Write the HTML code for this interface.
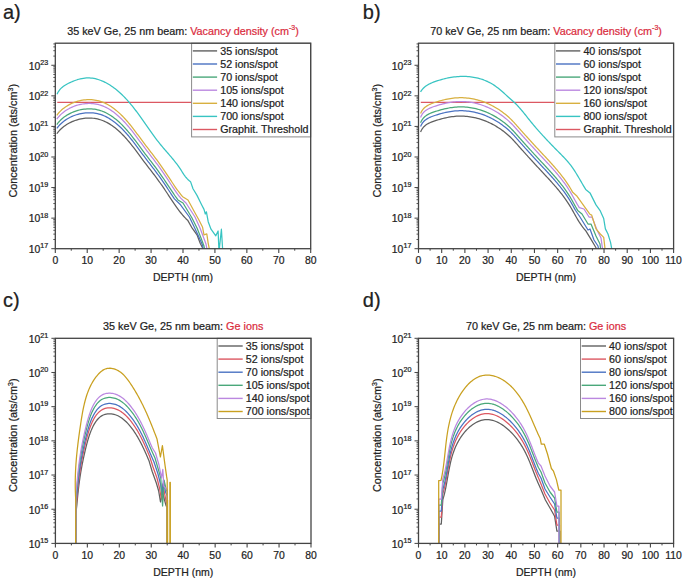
<!DOCTYPE html>
<html><head><meta charset="utf-8"><style>
html,body{margin:0;padding:0;background:#fff;}
body{width:685px;height:584px;overflow:hidden;}
svg{display:block;}
text{font-family:"Liberation Sans", sans-serif;}
</style></head><body>
<svg width="685" height="584" viewBox="0 0 685 584" font-family='"Liberation Sans", sans-serif'>
<rect width="685" height="584" fill="#fff"/>
<text x="3" y="18.6" text-anchor="start" stroke-width="0.22"><tspan font-size="20" fill="#222" stroke="#222">a)</tspan></text>
<text x="362.8" y="18.8" text-anchor="start" stroke-width="0.22"><tspan font-size="20" fill="#222" stroke="#222">b)</tspan></text>
<text x="3" y="306.5" text-anchor="start" stroke-width="0.22"><tspan font-size="20" fill="#222" stroke="#222">c)</tspan></text>
<text x="362.8" y="306.5" text-anchor="start" stroke-width="0.22"><tspan font-size="20" fill="#222" stroke="#222">d)</tspan></text>
<line x1="57.3" y1="102.4" x2="191.6" y2="102.4" stroke="#dc5862" stroke-width="1.25"/>
<polyline points="56.81,133.75 57.69,132.57 58.63,131.42 59.62,130.31 60.67,129.25 61.78,128.23 62.93,127.25 64.13,126.31 65.37,125.42 66.65,124.58 67.97,123.78 69.32,123.03 70.7,122.33 72.11,121.68 73.55,121.08 75,120.53 76.47,120.04 77.96,119.59 79.46,119.21 80.97,118.87 82.49,118.6 84.01,118.38 85.53,118.21 87.05,118.11 88.57,118.06 90.09,118.06 91.6,118.13 93.1,118.25 94.59,118.43 96.06,118.67 97.53,118.97 98.97,119.33 100.4,119.74 101.8,120.22 103.19,120.75 104.55,121.34 105.89,121.97 107.22,122.65 108.52,123.38 109.8,124.15 111.07,124.96 112.31,125.81 113.53,126.69 114.73,127.61 115.92,128.55 117.08,129.52 118.22,130.51 119.35,131.53 120.45,132.56 121.54,133.62 122.61,134.7 123.67,135.79 124.71,136.9 125.74,138.03 126.75,139.17 127.75,140.32 128.74,141.49 129.72,142.67 130.69,143.86 131.65,145.06 132.6,146.27 133.54,147.48 134.48,148.7 135.41,149.93 136.33,151.16 137.26,152.4 138.17,153.63 139.09,154.87 140,156.11 140.91,157.34 141.82,158.58 142.73,159.81 143.65,161.04 144.56,162.26 145.48,163.47 146.4,164.68 147.32,165.89 148.24,167.09 149.17,168.28 150.09,169.48 151.01,170.67 151.94,171.86 152.85,173.06 153.77,174.25 154.68,175.45 155.58,176.66 156.48,177.86 157.38,179.08 158.27,180.3 159.15,181.52 160.02,182.75 160.89,183.99 161.76,185.23 162.62,186.47 163.47,187.72 164.33,188.97 165.17,190.23 166.02,191.49 166.86,192.75 167.7,194.02 168.54,195.29 169.37,196.56 170.21,197.83 171.05,199.11 171.88,200.38 172.73,201.65 173.57,202.91 174.43,204.18 175.29,205.43 176.16,206.68 177.04,207.92 177.94,209.15 178.85,210.36 179.77,211.57 180.71,212.76 181.67,213.93 182.66,215.09 183.66,216.22 184.69,217.34 185.74,218.44 186.82,219.52 187.92,220.57 192.2,228.2 197,234.8 200.2,243.3 203,248.7 203.2,252" fill="none" stroke="#606060" stroke-width="1.25" stroke-linejoin="round" clip-path="url(#clipa)"/>
<polyline points="56.81,128.45 57.69,127.27 58.63,126.12 59.62,125.01 60.67,123.95 61.78,122.93 62.93,121.95 64.13,121.01 65.37,120.12 66.65,119.28 67.97,118.48 69.32,117.73 70.7,117.03 72.11,116.38 73.55,115.78 75,115.23 76.47,114.74 77.96,114.29 79.46,113.91 80.97,113.57 82.49,113.3 84.01,113.08 85.53,112.91 87.05,112.81 88.57,112.76 90.09,112.76 91.6,112.83 93.1,112.95 94.59,113.13 96.06,113.37 97.53,113.67 98.97,114.03 100.4,114.44 101.8,114.92 103.19,115.45 104.55,116.04 105.89,116.67 107.22,117.35 108.52,118.08 109.8,118.85 111.07,119.66 112.31,120.51 113.53,121.39 114.73,122.31 115.92,123.25 117.08,124.22 118.22,125.21 119.35,126.23 120.45,127.26 121.54,128.32 122.61,129.4 123.67,130.49 124.71,131.6 125.74,132.73 126.75,133.87 127.75,135.02 128.74,136.19 129.72,137.37 130.69,138.56 131.65,139.76 132.6,140.97 133.54,142.18 134.48,143.4 135.41,144.63 136.33,145.86 137.26,147.1 138.17,148.33 139.09,149.57 140,150.81 140.91,152.04 141.82,153.28 142.73,154.51 143.65,155.74 144.56,156.96 145.48,158.17 146.4,159.38 147.32,160.59 148.24,161.79 149.17,162.98 150.09,164.18 151.01,165.37 151.94,166.56 152.85,167.76 153.77,168.95 154.68,170.15 155.58,171.36 156.48,172.56 157.38,173.78 158.27,175 159.15,176.22 160.02,177.45 160.89,178.69 161.76,179.93 162.62,181.17 163.47,182.42 164.33,183.67 165.17,184.93 166.02,186.19 166.86,187.45 167.7,188.72 168.54,189.99 169.37,191.26 170.21,192.53 171.05,193.81 171.88,195.08 172.73,196.35 173.57,197.61 174.43,198.88 180,204.2 189.4,217 194,226.4 198.8,236.7 202.6,245.2 203.5,252" fill="none" stroke="#4a72c2" stroke-width="1.25" stroke-linejoin="round" clip-path="url(#clipa)"/>
<polyline points="56.81,124.55 57.69,123.37 58.63,122.22 59.62,121.11 60.67,120.05 61.78,119.03 62.93,118.05 64.13,117.11 65.37,116.22 66.65,115.38 67.97,114.58 69.32,113.83 70.7,113.13 72.11,112.48 73.55,111.88 75,111.33 76.47,110.84 77.96,110.39 79.46,110.01 80.97,109.67 82.49,109.4 84.01,109.18 85.53,109.01 87.05,108.91 88.57,108.86 90.09,108.86 91.6,108.93 93.1,109.05 94.59,109.23 96.06,109.47 97.53,109.77 98.97,110.13 100.4,110.54 101.8,111.02 103.19,111.55 104.55,112.14 105.89,112.77 107.22,113.45 108.52,114.18 109.8,114.95 111.07,115.76 112.31,116.61 113.53,117.49 114.73,118.41 115.92,119.35 117.08,120.32 118.22,121.31 119.35,122.33 120.45,123.36 121.54,124.42 122.61,125.5 123.67,126.59 124.71,127.7 125.74,128.83 126.75,129.97 127.75,131.12 128.74,132.29 129.72,133.47 130.69,134.66 131.65,135.86 132.6,137.07 133.54,138.28 134.48,139.5 135.41,140.73 136.33,141.96 137.26,143.2 138.17,144.43 139.09,145.67 140,146.91 140.91,148.14 141.82,149.38 142.73,150.61 143.65,151.84 144.56,153.06 145.48,154.27 146.4,155.48 147.32,156.69 148.24,157.89 149.17,159.08 150.09,160.28 151.01,161.47 151.94,162.66 152.85,163.86 153.77,165.05 154.68,166.25 155.58,167.46 156.48,168.66 157.38,169.88 158.27,171.1 159.15,172.32 160.02,173.55 160.89,174.79 161.76,176.03 162.62,177.27 163.47,178.52 164.33,179.77 165.17,181.03 166.02,182.29 166.86,183.55 167.7,184.82 168.54,186.09 169.37,187.36 170.21,188.63 171.05,189.91 171.88,191.18 172.73,192.45 173.57,193.71 174.43,194.98 175.29,196.23 176.16,197.48 177.04,198.72 177.94,199.95 183,203 192,218 197,228 201,238 204,246 205,252" fill="none" stroke="#4aa87a" stroke-width="1.25" stroke-linejoin="round" clip-path="url(#clipa)"/>
<polyline points="56.81,119.15 57.69,117.97 58.63,116.82 59.62,115.71 60.67,114.65 61.78,113.63 62.93,112.65 64.13,111.71 65.37,110.82 66.65,109.98 67.97,109.18 69.32,108.43 70.7,107.73 72.11,107.08 73.55,106.48 75,105.93 76.47,105.44 77.96,104.99 79.46,104.61 80.97,104.27 82.49,104 84.01,103.78 85.53,103.61 87.05,103.51 88.57,103.46 90.09,103.46 91.6,103.53 93.1,103.65 94.59,103.83 96.06,104.07 97.53,104.37 98.97,104.73 100.4,105.14 101.8,105.62 103.19,106.15 104.55,106.74 105.89,107.37 107.22,108.05 108.52,108.78 109.8,109.55 111.07,110.36 112.31,111.21 113.53,112.09 114.73,113.01 115.92,113.95 117.08,114.92 118.22,115.91 119.35,116.93 120.45,117.96 121.54,119.02 122.61,120.1 123.67,121.19 124.71,122.3 125.74,123.43 126.75,124.57 127.75,125.72 128.74,126.89 129.72,128.07 130.69,129.26 131.65,130.46 132.6,131.67 133.54,132.88 134.48,134.1 135.41,135.33 136.33,136.56 137.26,137.8 138.17,139.03 139.09,140.27 140,141.51 140.91,142.74 141.82,143.98 142.73,145.21 143.65,146.44 144.56,147.66 145.48,148.87 146.4,150.08 147.32,151.29 148.24,152.49 149.17,153.68 150.09,154.88 151.01,156.07 151.94,157.26 152.85,158.46 153.77,159.65 154.68,160.85 155.58,162.06 156.48,163.26 157.38,164.48 158.27,165.7 159.15,166.92 160.02,168.15 160.89,169.39 161.76,170.63 162.62,171.87 163.47,173.12 164.33,174.37 165.17,175.63 166.02,176.89 166.86,178.15 167.7,179.42 168.54,180.69 169.37,181.96 170.21,183.23 171.05,184.51 171.88,185.78 172.73,187.05 173.57,188.31 174.43,189.58 175.29,190.83 176.16,192.08 177.04,193.32 177.94,194.55 178.85,195.76 179.77,196.97 180.71,198.16 186,203 195,217 200,228 203,236 206,244 207.5,252" fill="none" stroke="#bb88e0" stroke-width="1.25" stroke-linejoin="round" clip-path="url(#clipa)"/>
<polyline points="56.81,115.35 57.69,114.17 58.63,113.02 59.62,111.91 60.67,110.85 61.78,109.83 62.93,108.85 64.13,107.91 65.37,107.02 66.65,106.18 67.97,105.38 69.32,104.63 70.7,103.93 72.11,103.28 73.55,102.68 75,102.13 76.47,101.64 77.96,101.19 79.46,100.81 80.97,100.47 82.49,100.2 84.01,99.98 85.53,99.81 87.05,99.71 88.57,99.66 90.09,99.66 91.6,99.73 93.1,99.85 94.59,100.03 96.06,100.27 97.53,100.57 98.97,100.93 100.4,101.34 101.8,101.82 103.19,102.35 104.55,102.94 105.89,103.57 107.22,104.25 108.52,104.98 109.8,105.75 111.07,106.56 112.31,107.41 113.53,108.29 114.73,109.21 115.92,110.15 117.08,111.12 118.22,112.11 119.35,113.13 120.45,114.16 121.54,115.22 122.61,116.3 123.67,117.39 124.71,118.5 125.74,119.63 126.75,120.77 127.75,121.92 128.74,123.09 129.72,124.27 130.69,125.46 131.65,126.66 132.6,127.87 133.54,129.08 134.48,130.3 135.41,131.53 136.33,132.76 137.26,134 138.17,135.23 139.09,136.47 140,137.71 140.91,138.94 141.82,140.18 142.73,141.41 143.65,142.64 144.56,143.86 145.48,145.07 146.4,146.28 147.32,147.49 148.24,148.69 149.17,149.88 150.09,151.08 151.01,152.27 151.94,153.46 152.85,154.66 153.77,155.85 154.68,157.05 155.58,158.26 156.48,159.46 157.38,160.68 158.27,161.9 159.15,163.12 160.02,164.35 160.89,165.59 161.76,166.83 162.62,168.07 163.47,169.32 164.33,170.57 165.17,171.83 166.02,173.09 166.86,174.35 167.7,175.62 168.54,176.89 169.37,178.16 170.21,179.43 171.05,180.71 171.88,181.98 172.73,183.25 173.57,184.51 174.43,185.78 175.29,187.03 176.16,188.28 177.04,189.52 177.94,190.75 178.85,191.96 179.77,193.17 180.71,194.36 181.67,195.53 182.66,196.69 188,200 194.1,211.3 198.8,219.8 202.6,227.3 204,234.8 206.8,233.9 208.2,243.3 210,252" fill="none" stroke="#d8b040" stroke-width="1.25" stroke-linejoin="round" clip-path="url(#clipa)"/>
<polyline points="56.99,94.35 57.67,92.89 58.44,91.55 59.3,90.32 60.23,89.18 61.23,88.14 62.31,87.18 63.45,86.3 64.65,85.47 65.9,84.71 67.2,83.98 68.55,83.29 69.93,82.63 71.35,81.99 72.8,81.37 74.28,80.78 75.77,80.23 77.28,79.72 78.81,79.27 80.34,78.87 81.87,78.53 83.4,78.26 84.93,78.06 86.44,77.95 87.95,77.9 89.45,77.94 90.93,78.04 92.41,78.2 93.87,78.44 95.32,78.73 96.76,79.09 98.18,79.5 99.59,79.97 100.99,80.48 102.37,81.05 103.74,81.67 105.09,82.32 106.42,83.02 107.74,83.76 109.04,84.54 110.32,85.34 111.58,86.18 112.82,87.05 114.05,87.94 115.25,88.86 116.44,89.8 117.6,90.76 118.74,91.74 119.87,92.73 120.98,93.75 122.07,94.79 123.15,95.84 124.21,96.9 125.25,97.99 126.28,99.09 127.3,100.2 128.3,101.33 129.3,102.47 130.27,103.62 131.24,104.78 132.2,105.96 133.15,107.14 134.08,108.34 135.01,109.54 135.93,110.75 136.85,111.97 137.76,113.2 138.66,114.43 139.55,115.67 140.44,116.91 141.33,118.16 142.21,119.41 143.09,120.66 143.97,121.92 144.85,123.18 145.72,124.43 146.6,125.69 147.48,126.95 148.35,128.2 149.23,129.46 150.11,130.71 151,131.96 151.88,133.2 152.78,134.44 153.67,135.67 154.58,136.9 155.48,138.12 156.4,139.34 157.32,140.54 158.25,141.74 159.19,142.93 160.14,144.1 161.1,145.27 162.07,146.43 163.04,147.58 164.02,148.72 165,149.86 165.99,151 166.97,152.14 167.96,153.27 168.94,154.41 169.92,155.55 170.9,156.69 171.87,157.84 172.83,159 173.79,160.17 174.73,161.34 175.66,162.53 176.58,163.73 177.48,164.94 178.37,166.17 179.24,167.41 180.1,168.68 180.93,169.96 181.76,171.26 182.58,172.55 183.42,173.83 184.28,175.1 185.17,176.33 186.11,177.52 187.11,178.66 188.17,179.73 189.31,180.74 190.54,181.65 193,188.8 197,195.4 201.6,204.7 204,209.4 205.3,214 206.4,211.8 208.2,221.7 211,229.2 215.8,235.8 218.1,231 219,252 221.4,229.2 222.8,252" fill="none" stroke="#38c4c2" stroke-width="1.25" stroke-linejoin="round" clip-path="url(#clipa)"/>
<line x1="420.8" y1="102.4" x2="554.8" y2="102.4" stroke="#dc5862" stroke-width="1.25"/>
<polyline points="420.58,132.01 421.27,130.44 422.06,129.04 422.95,127.8 423.93,126.68 425,125.7 426.14,124.82 427.34,124.04 428.6,123.34 429.91,122.71 431.26,122.14 432.65,121.62 434.06,121.13 435.49,120.65 436.94,120.19 438.4,119.74 439.87,119.31 441.35,118.9 442.84,118.51 444.34,118.15 445.84,117.81 447.35,117.49 448.87,117.2 450.39,116.94 451.91,116.72 453.43,116.52 454.95,116.37 456.48,116.24 457.99,116.16 459.51,116.11 461.02,116.1 462.53,116.12 464.03,116.19 465.54,116.28 467.03,116.42 468.52,116.58 470.01,116.78 471.48,117.02 472.96,117.29 474.42,117.59 475.88,117.93 477.33,118.29 478.77,118.69 480.21,119.12 481.63,119.58 483.05,120.08 484.46,120.6 485.85,121.15 487.24,121.73 488.62,122.35 489.98,122.99 491.34,123.65 492.68,124.35 494.01,125.07 495.32,125.82 496.63,126.6 497.92,127.41 499.19,128.24 500.46,129.09 501.7,129.97 502.94,130.87 504.15,131.8 505.35,132.75 506.53,133.73 507.69,134.72 508.83,135.73 509.95,136.77 511.05,137.82 512.12,138.89 513.17,139.98 514.2,141.09 515.21,142.21 516.21,143.33 517.2,144.46 518.2,145.59 519.2,146.71 520.2,147.84 521.2,148.96 522.2,150.08 523.2,151.21 524.21,152.33 525.22,153.45 526.23,154.57 527.24,155.69 528.25,156.81 529.26,157.92 530.28,159.04 531.3,160.15 532.32,161.27 533.34,162.38 534.36,163.5 535.38,164.61 536.41,165.72 537.44,166.83 538.47,167.94 539.5,169.05 540.53,170.16 541.57,171.26 542.6,172.37 543.64,173.48 544.67,174.59 545.71,175.7 546.74,176.81 547.77,177.92 548.8,179.04 549.82,180.16 550.84,181.28 551.86,182.41 552.86,183.54 553.87,184.67 554.87,185.81 555.86,186.96 556.84,188.11 557.81,189.27 558.77,190.43 559.73,191.61 560.67,192.79 561.61,193.97 562.53,195.17 563.44,196.38 564.33,197.59 565.22,198.81 566.08,200.05 566.94,201.29 567.78,202.55 568.6,203.82 569.41,205.1 570.19,206.39 570.97,207.7 571.73,209.01 572.47,210.33 573.22,211.66 573.95,212.99 574.69,214.32 575.43,215.65 576.18,216.97 576.93,218.29 577.7,219.6 578.48,220.89 579.28,222.18 580.11,223.45 580.96,224.7 581.83,225.93 582.74,227.14 583.69,228.32 584.67,229.48 585.69,230.6 590.9,239.1 596,247.7 596.5,252" fill="none" stroke="#606060" stroke-width="1.25" stroke-linejoin="round" clip-path="url(#clipb)"/>
<polyline points="420.58,126.61 421.27,125.04 422.06,123.64 422.95,122.4 423.93,121.28 425,120.3 426.14,119.42 427.34,118.64 428.6,117.94 429.91,117.31 431.26,116.74 432.65,116.22 434.06,115.73 435.49,115.25 436.94,114.79 438.4,114.34 439.87,113.91 441.35,113.5 442.84,113.11 444.34,112.75 445.84,112.41 447.35,112.09 448.87,111.8 450.39,111.54 451.91,111.32 453.43,111.12 454.95,110.97 456.48,110.84 457.99,110.76 459.51,110.71 461.02,110.7 462.53,110.72 464.03,110.79 465.54,110.88 467.03,111.02 468.52,111.18 470.01,111.38 471.48,111.62 472.96,111.89 474.42,112.19 475.88,112.53 477.33,112.89 478.77,113.29 480.21,113.72 481.63,114.18 483.05,114.68 484.46,115.2 485.85,115.75 487.24,116.33 488.62,116.95 489.98,117.59 491.34,118.25 492.68,118.95 494.01,119.67 495.32,120.42 496.63,121.2 497.92,122.01 499.19,122.84 500.46,123.69 501.7,124.57 502.94,125.47 504.15,126.4 505.35,127.35 506.53,128.33 507.69,129.32 508.83,130.33 509.95,131.37 511.05,132.42 512.12,133.49 513.17,134.58 514.2,135.69 515.21,136.81 516.21,137.93 517.2,139.06 518.2,140.19 519.2,141.31 520.2,142.44 521.2,143.56 522.2,144.68 523.2,145.81 524.21,146.93 525.22,148.05 526.23,149.17 527.24,150.29 528.25,151.41 529.26,152.52 530.28,153.64 531.3,154.75 532.32,155.87 533.34,156.98 534.36,158.1 535.38,159.21 536.41,160.32 537.44,161.43 538.47,162.54 539.5,163.65 540.53,164.76 541.57,165.86 542.6,166.97 543.64,168.08 544.67,169.19 545.71,170.3 546.74,171.41 547.77,172.52 548.8,173.64 549.82,174.76 550.84,175.88 551.86,177.01 552.86,178.14 553.87,179.27 554.87,180.41 555.86,181.56 556.84,182.71 557.81,183.87 558.77,185.03 559.73,186.21 560.67,187.39 561.61,188.57 562.53,189.77 563.44,190.98 564.33,192.19 565.22,193.41 566.08,194.65 566.94,195.89 567.78,197.15 568.6,198.42 569.41,199.7 570.19,200.99 570.97,202.3 571.73,203.61 572.47,204.93 573.22,206.26 573.95,207.59 574.69,208.92 575.43,210.25 580,217 588,230 590,229 594,240 598,246 599,252" fill="none" stroke="#4a72c2" stroke-width="1.25" stroke-linejoin="round" clip-path="url(#clipb)"/>
<polyline points="420.58,122.81 421.27,121.24 422.06,119.84 422.95,118.6 423.93,117.48 425,116.5 426.14,115.62 427.34,114.84 428.6,114.14 429.91,113.51 431.26,112.94 432.65,112.42 434.06,111.93 435.49,111.45 436.94,110.99 438.4,110.54 439.87,110.11 441.35,109.7 442.84,109.31 444.34,108.95 445.84,108.61 447.35,108.29 448.87,108 450.39,107.74 451.91,107.52 453.43,107.32 454.95,107.17 456.48,107.04 457.99,106.96 459.51,106.91 461.02,106.9 462.53,106.92 464.03,106.99 465.54,107.08 467.03,107.22 468.52,107.38 470.01,107.58 471.48,107.82 472.96,108.09 474.42,108.39 475.88,108.73 477.33,109.09 478.77,109.49 480.21,109.92 481.63,110.38 483.05,110.88 484.46,111.4 485.85,111.95 487.24,112.53 488.62,113.15 489.98,113.79 491.34,114.45 492.68,115.15 494.01,115.87 495.32,116.62 496.63,117.4 497.92,118.21 499.19,119.04 500.46,119.89 501.7,120.77 502.94,121.67 504.15,122.6 505.35,123.55 506.53,124.53 507.69,125.52 508.83,126.53 509.95,127.57 511.05,128.62 512.12,129.69 513.17,130.78 514.2,131.89 515.21,133.01 516.21,134.13 517.2,135.26 518.2,136.39 519.2,137.51 520.2,138.64 521.2,139.76 522.2,140.88 523.2,142.01 524.21,143.13 525.22,144.25 526.23,145.37 527.24,146.49 528.25,147.61 529.26,148.72 530.28,149.84 531.3,150.95 532.32,152.07 533.34,153.18 534.36,154.3 535.38,155.41 536.41,156.52 537.44,157.63 538.47,158.74 539.5,159.85 540.53,160.96 541.57,162.06 542.6,163.17 543.64,164.28 544.67,165.39 545.71,166.5 546.74,167.61 547.77,168.72 548.8,169.84 549.82,170.96 550.84,172.08 551.86,173.21 552.86,174.34 553.87,175.47 554.87,176.61 555.86,177.76 556.84,178.91 557.81,180.07 558.77,181.23 559.73,182.41 560.67,183.59 561.61,184.77 562.53,185.97 563.44,187.18 564.33,188.39 565.22,189.61 566.08,190.85 566.94,192.09 567.78,193.35 568.6,194.62 569.41,195.9 570.19,197.19 570.97,198.5 571.73,199.81 572.47,201.13 573.22,202.46 573.95,203.79 574.69,205.12 575.43,206.45 576.18,207.77 576.93,209.09 577.7,210.4 582,214 588,224 591,224 596,236 600,244 601,252" fill="none" stroke="#4aa87a" stroke-width="1.25" stroke-linejoin="round" clip-path="url(#clipb)"/>
<polyline points="420.58,117.41 421.27,115.84 422.06,114.44 422.95,113.2 423.93,112.08 425,111.1 426.14,110.22 427.34,109.44 428.6,108.74 429.91,108.11 431.26,107.54 432.65,107.02 434.06,106.53 435.49,106.05 436.94,105.59 438.4,105.14 439.87,104.71 441.35,104.3 442.84,103.91 444.34,103.55 445.84,103.21 447.35,102.89 448.87,102.6 450.39,102.34 451.91,102.12 453.43,101.92 454.95,101.77 456.48,101.64 457.99,101.56 459.51,101.51 461.02,101.5 462.53,101.52 464.03,101.59 465.54,101.68 467.03,101.82 468.52,101.98 470.01,102.18 471.48,102.42 472.96,102.69 474.42,102.99 475.88,103.33 477.33,103.69 478.77,104.09 480.21,104.52 481.63,104.98 483.05,105.48 484.46,106 485.85,106.55 487.24,107.13 488.62,107.75 489.98,108.39 491.34,109.05 492.68,109.75 494.01,110.47 495.32,111.22 496.63,112 497.92,112.81 499.19,113.64 500.46,114.49 501.7,115.37 502.94,116.27 504.15,117.2 505.35,118.15 506.53,119.13 507.69,120.12 508.83,121.13 509.95,122.17 511.05,123.22 512.12,124.29 513.17,125.38 514.2,126.49 515.21,127.61 516.21,128.73 517.2,129.86 518.2,130.99 519.2,132.11 520.2,133.24 521.2,134.36 522.2,135.48 523.2,136.61 524.21,137.73 525.22,138.85 526.23,139.97 527.24,141.09 528.25,142.21 529.26,143.32 530.28,144.44 531.3,145.55 532.32,146.67 533.34,147.78 534.36,148.9 535.38,150.01 536.41,151.12 537.44,152.23 538.47,153.34 539.5,154.45 540.53,155.56 541.57,156.66 542.6,157.77 543.64,158.88 544.67,159.99 545.71,161.1 546.74,162.21 547.77,163.32 548.8,164.44 549.82,165.56 550.84,166.68 551.86,167.81 552.86,168.94 553.87,170.07 554.87,171.21 555.86,172.36 556.84,173.51 557.81,174.67 558.77,175.83 559.73,177.01 560.67,178.19 561.61,179.37 562.53,180.57 563.44,181.78 564.33,182.99 565.22,184.21 566.08,185.45 566.94,186.69 567.78,187.95 568.6,189.22 569.41,190.5 570.19,191.79 570.97,193.1 571.73,194.41 572.47,195.73 573.22,197.06 573.95,198.39 574.69,199.72 575.43,201.05 576.18,202.37 576.93,203.69 577.7,205 578.48,206.29 579.28,207.58 584,209 589,217 592,217 597,230 601,238 603,252" fill="none" stroke="#bb88e0" stroke-width="1.25" stroke-linejoin="round" clip-path="url(#clipb)"/>
<polyline points="420.58,113.61 421.27,112.04 422.06,110.64 422.95,109.4 423.93,108.28 425,107.3 426.14,106.42 427.34,105.64 428.6,104.94 429.91,104.31 431.26,103.74 432.65,103.22 434.06,102.73 435.49,102.25 436.94,101.79 438.4,101.34 439.87,100.91 441.35,100.5 442.84,100.11 444.34,99.75 445.84,99.41 447.35,99.09 448.87,98.8 450.39,98.54 451.91,98.32 453.43,98.12 454.95,97.97 456.48,97.84 457.99,97.76 459.51,97.71 461.02,97.7 462.53,97.72 464.03,97.79 465.54,97.88 467.03,98.02 468.52,98.18 470.01,98.38 471.48,98.62 472.96,98.89 474.42,99.19 475.88,99.53 477.33,99.89 478.77,100.29 480.21,100.72 481.63,101.18 483.05,101.68 484.46,102.2 485.85,102.75 487.24,103.33 488.62,103.95 489.98,104.59 491.34,105.25 492.68,105.95 494.01,106.67 495.32,107.42 496.63,108.2 497.92,109.01 499.19,109.84 500.46,110.69 501.7,111.57 502.94,112.47 504.15,113.4 505.35,114.35 506.53,115.33 507.69,116.32 508.83,117.33 509.95,118.37 511.05,119.42 512.12,120.49 513.17,121.58 514.2,122.69 515.21,123.81 516.21,124.93 517.2,126.06 518.2,127.19 519.2,128.31 520.2,129.44 521.2,130.56 522.2,131.68 523.2,132.81 524.21,133.93 525.22,135.05 526.23,136.17 527.24,137.29 528.25,138.41 529.26,139.52 530.28,140.64 531.3,141.75 532.32,142.87 533.34,143.98 534.36,145.1 535.38,146.21 536.41,147.32 537.44,148.43 538.47,149.54 539.5,150.65 540.53,151.76 541.57,152.86 542.6,153.97 543.64,155.08 544.67,156.19 545.71,157.3 546.74,158.41 547.77,159.52 548.8,160.64 549.82,161.76 550.84,162.88 551.86,164.01 552.86,165.14 553.87,166.27 554.87,167.41 555.86,168.56 556.84,169.71 557.81,170.87 558.77,172.03 559.73,173.21 560.67,174.39 561.61,175.57 562.53,176.77 563.44,177.98 564.33,179.19 565.22,180.41 566.08,181.65 566.94,182.89 567.78,184.15 568.6,185.42 569.41,186.7 570.19,187.99 570.97,189.3 571.73,190.61 572.47,191.93 577.1,196.3 590,214.3 591.7,215.1 596,228.9 600.3,234 603.7,237.4 605.4,252" fill="none" stroke="#d8b040" stroke-width="1.25" stroke-linejoin="round" clip-path="url(#clipb)"/>
<polyline points="420.53,91.94 421.38,90.58 422.31,89.33 423.32,88.21 424.4,87.19 425.54,86.27 426.74,85.43 427.99,84.67 429.29,83.98 430.63,83.34 432,82.75 433.39,82.2 434.81,81.68 436.24,81.18 437.68,80.7 439.14,80.24 440.6,79.8 442.07,79.38 443.56,78.98 445.05,78.61 446.54,78.26 448.05,77.94 449.55,77.65 451.06,77.38 452.58,77.15 454.1,76.94 455.62,76.77 457.14,76.62 458.66,76.51 460.17,76.44 461.69,76.39 463.21,76.38 464.72,76.4 466.22,76.46 467.73,76.55 469.22,76.68 470.71,76.84 472.2,77.04 473.67,77.28 475.14,77.55 476.6,77.85 478.05,78.2 479.48,78.58 480.91,79 482.32,79.46 483.72,79.96 485.11,80.5 486.48,81.07 487.83,81.69 489.17,82.35 490.49,83.04 491.8,83.78 493.08,84.56 494.35,85.38 495.6,86.24 496.83,87.14 498.04,88.07 499.24,89.03 500.42,90.02 501.59,91.02 502.75,92.04 503.91,93.06 505.06,94.1 506.2,95.13 507.34,96.17 508.48,97.19 509.61,98.2 510.75,99.2 511.88,100.2 513,101.2 514.1,102.22 515.18,103.25 516.24,104.31 517.28,105.38 518.3,106.48 519.3,107.59 520.29,108.72 521.27,109.86 522.23,111.01 523.19,112.17 524.14,113.34 525.08,114.51 526.02,115.69 526.96,116.87 527.89,118.06 528.83,119.24 529.78,120.42 530.72,121.6 531.68,122.77 532.64,123.93 533.61,125.09 534.59,126.24 535.57,127.39 536.55,128.54 537.55,129.68 538.55,130.81 539.55,131.94 540.56,133.07 541.58,134.19 542.59,135.3 543.62,136.42 544.65,137.53 545.68,138.63 546.71,139.73 547.75,140.83 548.79,141.93 549.84,143.02 550.89,144.11 551.94,145.2 552.99,146.28 554.05,147.36 555.1,148.44 556.16,149.52 557.22,150.59 558.28,151.67 559.34,152.74 560.41,153.81 561.47,154.88 562.52,155.95 563.57,157.03 564.61,158.12 565.64,159.22 566.65,160.34 567.64,161.47 568.62,162.62 569.56,163.79 570.49,164.98 571.39,166.19 572.27,167.42 573.14,168.67 573.99,169.93 574.82,171.2 575.64,172.49 576.44,173.78 577.24,175.08 578.02,176.39 578.8,177.7 579.57,179.01 580.34,180.32 581.1,181.64 581.86,182.95 582.62,184.26 583.38,185.56 584.15,186.85 584.92,188.13 585.69,189.41 590,192.9 596,204.9 600.3,210.9 603.7,218.6 605.4,228.9 608,234 610.6,242.6 612.3,252" fill="none" stroke="#38c4c2" stroke-width="1.25" stroke-linejoin="round" clip-path="url(#clipb)"/>
<polyline points="75.8,555 75.9,513.12 76.84,505.12 76.99,503.45 77.14,501.81 77.29,500.19 77.44,498.59 77.6,497.02 77.75,495.46 77.91,493.93 78.07,492.41 78.24,490.91 78.4,489.42 78.57,487.95 78.75,486.49 78.93,485.04 79.11,483.6 79.3,482.16 79.49,480.74 79.69,479.32 79.9,477.91 80.11,476.5 80.32,475.09 80.55,473.68 80.78,472.27 81.01,470.86 81.26,469.45 81.51,468.03 81.77,466.6 82.04,465.17 82.32,463.73 82.61,462.28 82.91,460.82 83.21,459.35 83.53,457.86 83.86,456.36 84.19,454.84 84.54,453.31 84.9,451.76 85.27,450.18 85.66,448.59 86.05,446.97 86.46,445.34 86.89,443.71 87.33,442.07 87.79,440.43 88.27,438.79 88.77,437.17 89.29,435.56 89.83,433.97 90.4,432.41 91,430.88 91.62,429.38 92.27,427.92 92.95,426.51 93.66,425.14 94.4,423.83 95.18,422.58 95.99,421.39 96.84,420.27 97.72,419.23 98.65,418.26 99.61,417.37 100.61,416.58 101.66,415.87 102.75,415.27 103.89,414.77 105.07,414.36 106.28,414.07 107.53,413.87 108.8,413.77 110.09,413.77 111.39,413.87 112.71,414.07 114.03,414.36 115.35,414.74 116.66,415.22 117.95,415.79 119.23,416.45 120.49,417.2 121.73,418.03 122.94,418.94 124.12,419.91 125.28,420.95 126.42,422.04 127.52,423.19 128.6,424.37 129.66,425.6 130.68,426.85 131.67,428.12 132.64,429.41 133.58,430.72 134.49,432.04 135.37,433.38 136.23,434.72 137.06,436.08 137.87,437.44 138.65,438.82 139.42,440.2 140.16,441.58 140.89,442.97 141.6,444.36 142.29,445.76 142.96,447.15 143.62,448.55 144.26,449.94 144.89,451.33 145.51,452.72 146.12,454.1 146.72,455.47 147.31,456.84 147.89,458.19 148.46,459.54 149.03,460.87 152.1,471.3 156.4,483.2 158.6,490.7 160.5,502 162.5,492 164.5,500 166.2,506 167.3,506 167.3,555" fill="none" stroke="#606060" stroke-width="1.25" stroke-linejoin="round" clip-path="url(#clipc)"/>
<polyline points="75.8,555 75.9,507.22 76.84,499.22 76.99,497.55 77.14,495.91 77.29,494.29 77.44,492.69 77.6,491.12 77.75,489.56 77.91,488.03 78.07,486.51 78.24,485.01 78.4,483.52 78.57,482.05 78.75,480.59 78.93,479.14 79.11,477.7 79.3,476.26 79.49,474.84 79.69,473.42 79.9,472.01 80.11,470.6 80.32,469.19 80.55,467.78 80.78,466.37 81.01,464.96 81.26,463.55 81.51,462.13 81.77,460.7 82.04,459.27 82.32,457.83 82.61,456.38 82.91,454.92 83.21,453.45 83.53,451.96 83.86,450.46 84.19,448.94 84.54,447.41 84.9,445.86 85.27,444.28 85.66,442.69 86.05,441.07 86.46,439.44 86.89,437.81 87.33,436.17 87.79,434.53 88.27,432.89 88.77,431.27 89.29,429.66 89.83,428.07 90.4,426.51 91,424.98 91.62,423.48 92.27,422.02 92.95,420.61 93.66,419.24 94.4,417.93 95.18,416.68 95.99,415.49 96.84,414.37 97.72,413.33 98.65,412.36 99.61,411.47 100.61,410.68 101.66,409.97 102.75,409.37 103.89,408.87 105.07,408.46 106.28,408.17 107.53,407.97 108.8,407.87 110.09,407.87 111.39,407.97 112.71,408.17 114.03,408.46 115.35,408.84 116.66,409.32 117.95,409.89 119.23,410.55 120.49,411.3 121.73,412.13 122.94,413.04 124.12,414.01 125.28,415.05 126.42,416.14 127.52,417.29 128.6,418.47 129.66,419.7 130.68,420.95 131.67,422.22 132.64,423.51 133.58,424.82 134.49,426.14 135.37,427.48 136.23,428.82 137.06,430.18 137.87,431.54 138.65,432.92 139.42,434.3 140.16,435.68 140.89,437.07 141.6,438.46 142.29,439.86 142.96,441.25 143.62,442.65 144.26,444.04 144.89,445.43 145.51,446.82 146.12,448.2 146.72,449.57 147.31,450.94 147.89,452.29 148.46,453.64 149.03,454.97 149.59,456.29 153,467 157,478 159.5,488 161.3,499 163,484 165,496 166.5,503 167.3,503 167.3,555" fill="none" stroke="#dc5862" stroke-width="1.25" stroke-linejoin="round" clip-path="url(#clipc)"/>
<polyline points="75.8,555 75.9,502.82 76.84,494.82 76.99,493.15 77.14,491.51 77.29,489.89 77.44,488.29 77.6,486.72 77.75,485.16 77.91,483.63 78.07,482.11 78.24,480.61 78.4,479.12 78.57,477.65 78.75,476.19 78.93,474.74 79.11,473.3 79.3,471.86 79.49,470.44 79.69,469.02 79.9,467.61 80.11,466.2 80.32,464.79 80.55,463.38 80.78,461.97 81.01,460.56 81.26,459.15 81.51,457.73 81.77,456.3 82.04,454.87 82.32,453.43 82.61,451.98 82.91,450.52 83.21,449.05 83.53,447.56 83.86,446.06 84.19,444.54 84.54,443.01 84.9,441.46 85.27,439.88 85.66,438.29 86.05,436.67 86.46,435.04 86.89,433.41 87.33,431.77 87.79,430.13 88.27,428.49 88.77,426.87 89.29,425.26 89.83,423.67 90.4,422.11 91,420.58 91.62,419.08 92.27,417.62 92.95,416.21 93.66,414.84 94.4,413.53 95.18,412.28 95.99,411.09 96.84,409.97 97.72,408.93 98.65,407.96 99.61,407.07 100.61,406.28 101.66,405.57 102.75,404.97 103.89,404.47 105.07,404.06 106.28,403.77 107.53,403.57 108.8,403.47 110.09,403.47 111.39,403.57 112.71,403.77 114.03,404.06 115.35,404.44 116.66,404.92 117.95,405.49 119.23,406.15 120.49,406.9 121.73,407.73 122.94,408.64 124.12,409.61 125.28,410.65 126.42,411.74 127.52,412.89 128.6,414.07 129.66,415.3 130.68,416.55 131.67,417.82 132.64,419.11 133.58,420.42 134.49,421.74 135.37,423.08 136.23,424.42 137.06,425.78 137.87,427.14 138.65,428.52 139.42,429.9 140.16,431.28 140.89,432.67 141.6,434.06 142.29,435.46 142.96,436.85 143.62,438.25 144.26,439.64 144.89,441.03 145.51,442.42 146.12,443.8 146.72,445.17 147.31,446.54 147.89,447.89 148.46,449.24 149.03,450.57 149.59,451.89 150.15,453.2 150.71,454.49 154,462 158,474 160.5,484 162,494 163.5,480 165.5,492 167.3,496 167.3,555" fill="none" stroke="#4a72c2" stroke-width="1.25" stroke-linejoin="round" clip-path="url(#clipc)"/>
<polyline points="75.8,555 75.9,496.82 76.84,488.82 76.99,487.15 77.14,485.51 77.29,483.89 77.44,482.29 77.6,480.72 77.75,479.16 77.91,477.63 78.07,476.11 78.24,474.61 78.4,473.12 78.57,471.65 78.75,470.19 78.93,468.74 79.11,467.3 79.3,465.86 79.49,464.44 79.69,463.02 79.9,461.61 80.11,460.2 80.32,458.79 80.55,457.38 80.78,455.97 81.01,454.56 81.26,453.15 81.51,451.73 81.77,450.3 82.04,448.87 82.32,447.43 82.61,445.98 82.91,444.52 83.21,443.05 83.53,441.56 83.86,440.06 84.19,438.54 84.54,437.01 84.9,435.46 85.27,433.88 85.66,432.29 86.05,430.67 86.46,429.04 86.89,427.41 87.33,425.77 87.79,424.13 88.27,422.49 88.77,420.87 89.29,419.26 89.83,417.67 90.4,416.11 91,414.58 91.62,413.08 92.27,411.62 92.95,410.21 93.66,408.84 94.4,407.53 95.18,406.28 95.99,405.09 96.84,403.97 97.72,402.93 98.65,401.96 99.61,401.07 100.61,400.28 101.66,399.57 102.75,398.97 103.89,398.47 105.07,398.06 106.28,397.77 107.53,397.57 108.8,397.47 110.09,397.47 111.39,397.57 112.71,397.77 114.03,398.06 115.35,398.44 116.66,398.92 117.95,399.49 119.23,400.15 120.49,400.9 121.73,401.73 122.94,402.64 124.12,403.61 125.28,404.65 126.42,405.74 127.52,406.89 128.6,408.07 129.66,409.3 130.68,410.55 131.67,411.82 132.64,413.11 133.58,414.42 134.49,415.74 135.37,417.08 136.23,418.42 137.06,419.78 137.87,421.14 138.65,422.52 139.42,423.9 140.16,425.28 140.89,426.67 141.6,428.06 142.29,429.46 142.96,430.85 143.62,432.25 144.26,433.64 144.89,435.03 145.51,436.42 146.12,437.8 146.72,439.17 147.31,440.54 147.89,441.89 148.46,443.24 149.03,444.57 149.59,445.89 150.15,447.2 150.71,448.49 151.26,449.76 151.81,451.02 155,458 158.5,470 160.8,478 161.5,492 162.6,506 164,480 166,489 167.3,492 167.3,555" fill="none" stroke="#4aa87a" stroke-width="1.25" stroke-linejoin="round" clip-path="url(#clipc)"/>
<polyline points="75.8,555 75.9,492.52 76.84,484.52 76.99,482.85 77.14,481.21 77.29,479.59 77.44,477.99 77.6,476.42 77.75,474.86 77.91,473.33 78.07,471.81 78.24,470.31 78.4,468.82 78.57,467.35 78.75,465.89 78.93,464.44 79.11,463 79.3,461.56 79.49,460.14 79.69,458.72 79.9,457.31 80.11,455.9 80.32,454.49 80.55,453.08 80.78,451.67 81.01,450.26 81.26,448.85 81.51,447.43 81.77,446 82.04,444.57 82.32,443.13 82.61,441.68 82.91,440.22 83.21,438.75 83.53,437.26 83.86,435.76 84.19,434.24 84.54,432.71 84.9,431.16 85.27,429.58 85.66,427.99 86.05,426.37 86.46,424.74 86.89,423.11 87.33,421.47 87.79,419.83 88.27,418.19 88.77,416.57 89.29,414.96 89.83,413.37 90.4,411.81 91,410.28 91.62,408.78 92.27,407.32 92.95,405.91 93.66,404.54 94.4,403.23 95.18,401.98 95.99,400.79 96.84,399.67 97.72,398.63 98.65,397.66 99.61,396.77 100.61,395.98 101.66,395.27 102.75,394.67 103.89,394.17 105.07,393.76 106.28,393.47 107.53,393.27 108.8,393.17 110.09,393.17 111.39,393.27 112.71,393.47 114.03,393.76 115.35,394.14 116.66,394.62 117.95,395.19 119.23,395.85 120.49,396.6 121.73,397.43 122.94,398.34 124.12,399.31 125.28,400.35 126.42,401.44 127.52,402.59 128.6,403.77 129.66,405 130.68,406.25 131.67,407.52 132.64,408.81 133.58,410.12 134.49,411.44 135.37,412.78 136.23,414.12 137.06,415.48 137.87,416.84 138.65,418.22 139.42,419.6 140.16,420.98 140.89,422.37 141.6,423.76 142.29,425.16 142.96,426.55 143.62,427.95 144.26,429.34 144.89,430.73 145.51,432.12 146.12,433.5 146.72,434.87 147.31,436.24 147.89,437.59 148.46,438.94 149.03,440.27 149.59,441.59 150.15,442.9 150.71,444.19 151.26,445.46 151.81,446.72 152.37,447.96 155.5,453 159,465 161.5,478 162.8,469.3 163.8,486 165.5,488 167.3,490 167.3,555" fill="none" stroke="#bb88e0" stroke-width="1.25" stroke-linejoin="round" clip-path="url(#clipc)"/>
<polyline points="75.6,555 75.77,500.14 75.67,498.54 75.59,496.96 75.51,495.38 75.45,493.82 75.39,492.25 75.34,490.7 75.31,489.15 75.28,487.61 75.26,486.07 75.25,484.54 75.25,483.01 75.26,481.49 75.28,479.98 75.3,478.47 75.34,476.96 75.38,475.46 75.43,473.96 75.49,472.46 75.55,470.97 75.63,469.48 75.71,467.99 75.79,466.51 75.89,465.03 75.99,463.55 76.1,462.07 76.21,460.59 76.33,459.11 76.46,457.64 76.59,456.16 76.73,454.69 76.88,453.21 77.03,451.74 77.19,450.26 77.35,448.79 77.51,447.31 77.69,445.83 77.86,444.35 78.04,442.86 78.23,441.38 78.42,439.89 78.62,438.4 78.82,436.91 79.02,435.41 79.23,433.91 79.44,432.4 79.65,430.89 79.87,429.38 80.09,427.86 80.31,426.34 80.54,424.81 80.77,423.28 81,421.74 81.24,420.2 81.48,418.65 81.73,417.1 81.99,415.56 82.26,414.01 82.53,412.46 82.82,410.91 83.12,409.37 83.44,407.83 83.76,406.3 84.11,404.77 84.47,403.25 84.85,401.74 85.25,400.23 85.67,398.74 86.11,397.25 86.57,395.78 87.06,394.32 87.57,392.88 88.1,391.45 88.67,390.03 89.26,388.63 89.88,387.25 90.53,385.89 91.21,384.55 91.93,383.23 92.68,381.93 93.46,380.65 94.28,379.4 95.13,378.17 96.03,376.97 96.96,375.79 97.94,374.64 98.95,373.54 100.01,372.49 101.11,371.53 102.25,370.65 103.43,369.9 104.66,369.27 105.93,368.79 107.25,368.46 108.59,368.28 109.96,368.24 111.34,368.34 112.73,368.57 114.11,368.92 115.48,369.39 116.84,369.97 118.16,370.65 119.44,371.44 120.68,372.31 121.87,373.27 123.02,374.31 124.13,375.42 125.2,376.58 126.23,377.8 127.24,379.05 128.21,380.35 129.15,381.66 130.07,383 130.96,384.34 131.84,385.68 132.69,387.01 133.53,388.35 134.35,389.68 135.16,391.01 135.94,392.33 136.71,393.66 137.47,394.98 138.21,396.3 138.94,397.63 139.65,398.95 140.35,400.27 141.04,401.59 141.71,402.92 142.37,404.24 143.03,405.57 143.67,406.9 144.31,408.24 144.93,409.57 145.55,410.91 146.16,412.25 146.76,413.6 147.35,414.95 147.94,416.31 148.52,417.67 149.1,419.04 149.68,420.41 150.25,421.79 150.82,423.18 151.38,424.58 151.94,425.98 152.51,427.39 153.07,428.81 153.63,430.24 154.19,431.68 154.75,433.13 155.32,434.58 155.88,436.05 156.45,437.53 157.02,439.02 160.4,457 162.4,445.6 164.9,464.4 166.6,476.4 167.2,480 167.2,555" fill="none" stroke="#c9a020" stroke-width="1.25" stroke-linejoin="round" clip-path="url(#clipc)"/>
<polyline points="169.9,555 169.9,482.5 170.3,482.5 170.3,555" fill="none" stroke="#c9a020" stroke-width="1.3" stroke-linejoin="round" clip-path="url(#clipc)"/>
<polyline points="167.4,500 167.4,555" fill="none" stroke="#c9a020" stroke-width="1.6" stroke-linejoin="round" clip-path="url(#clipc)"/>
<polyline points="438.8,555 438.8,524 441.3,524 442.82,499.59 443.24,498.26 443.63,496.92 444,495.56 444.35,494.19 444.69,492.79 445.01,491.39 445.32,489.97 445.62,488.53 445.91,487.09 446.19,485.63 446.46,484.16 446.72,482.68 446.99,481.19 447.25,479.7 447.51,478.2 447.77,476.69 448.03,475.17 448.3,473.66 448.57,472.13 448.85,470.61 449.14,469.08 449.44,467.56 449.76,466.03 450.08,464.51 450.43,462.98 450.79,461.46 451.16,459.95 451.56,458.43 451.98,456.93 452.43,455.43 452.9,453.93 453.39,452.45 453.92,450.97 454.47,449.5 455.06,448.05 455.68,446.61 456.33,445.17 457.02,443.76 457.75,442.35 458.51,440.97 459.32,439.6 460.15,438.25 461.03,436.93 461.93,435.63 462.87,434.37 463.83,433.14 464.83,431.94 465.85,430.78 466.9,429.67 467.97,428.59 469.07,427.57 470.19,426.59 471.33,425.66 472.49,424.79 473.67,423.98 474.86,423.22 476.08,422.53 477.3,421.9 478.54,421.35 479.8,420.86 481.06,420.45 482.33,420.11 483.61,419.85 484.9,419.68 486.19,419.58 487.49,419.58 488.79,419.66 490.1,419.82 491.4,420.06 492.71,420.38 494.01,420.77 495.3,421.24 496.6,421.77 497.89,422.36 499.17,423.03 500.44,423.75 501.7,424.52 502.95,425.36 504.19,426.24 505.42,427.18 506.63,428.16 507.83,429.19 509,430.26 510.16,431.36 511.3,432.5 512.42,433.68 513.52,434.89 514.59,436.12 515.64,437.38 516.66,438.66 517.65,439.96 518.62,441.28 519.55,442.61 520.45,443.96 521.32,445.31 522.16,446.67 522.97,448.04 523.74,449.41 524.49,450.78 525.21,452.16 525.9,453.54 526.57,454.93 527.22,456.32 527.85,457.71 528.46,459.1 529.06,460.49 529.64,461.88 530.21,463.28 530.76,464.67 531.31,466.06 531.86,467.45 532.39,468.83 532.92,470.22 533.45,471.59 533.98,472.97 534.52,474.34 535.05,475.71 535.59,477.07 536.14,478.42 536.7,479.77 537.26,481.11 537.84,482.44 538.43,483.76 541,489.5 545.4,500 550,508 554.6,516.2 556.9,531.2 559.9,531.2 559.9,555" fill="none" stroke="#606060" stroke-width="1.25" stroke-linejoin="round" clip-path="url(#clipd)"/>
<polyline points="438.8,555 438.8,517 441.3,517 442.82,493.59 443.24,492.26 443.63,490.92 444,489.56 444.35,488.19 444.69,486.79 445.01,485.39 445.32,483.97 445.62,482.53 445.91,481.09 446.19,479.63 446.46,478.16 446.72,476.68 446.99,475.19 447.25,473.7 447.51,472.2 447.77,470.69 448.03,469.17 448.3,467.66 448.57,466.13 448.85,464.61 449.14,463.08 449.44,461.56 449.76,460.03 450.08,458.51 450.43,456.98 450.79,455.46 451.16,453.95 451.56,452.43 451.98,450.93 452.43,449.43 452.9,447.93 453.39,446.45 453.92,444.97 454.47,443.5 455.06,442.05 455.68,440.61 456.33,439.17 457.02,437.76 457.75,436.35 458.51,434.97 459.32,433.6 460.15,432.25 461.03,430.93 461.93,429.63 462.87,428.37 463.83,427.14 464.83,425.94 465.85,424.78 466.9,423.67 467.97,422.59 469.07,421.57 470.19,420.59 471.33,419.66 472.49,418.79 473.67,417.98 474.86,417.22 476.08,416.53 477.3,415.9 478.54,415.35 479.8,414.86 481.06,414.45 482.33,414.11 483.61,413.85 484.9,413.68 486.19,413.58 487.49,413.58 488.79,413.66 490.1,413.82 491.4,414.06 492.71,414.38 494.01,414.77 495.3,415.24 496.6,415.77 497.89,416.36 499.17,417.03 500.44,417.75 501.7,418.52 502.95,419.36 504.19,420.24 505.42,421.18 506.63,422.16 507.83,423.19 509,424.26 510.16,425.36 511.3,426.5 512.42,427.68 513.52,428.89 514.59,430.12 515.64,431.38 516.66,432.66 517.65,433.96 518.62,435.28 519.55,436.61 520.45,437.96 521.32,439.31 522.16,440.67 522.97,442.04 523.74,443.41 524.49,444.78 525.21,446.16 525.9,447.54 526.57,448.93 527.22,450.32 527.85,451.71 528.46,453.1 529.06,454.49 529.64,455.88 530.21,457.28 530.76,458.67 531.31,460.06 531.86,461.45 532.39,462.83 532.92,464.22 533.45,465.59 533.98,466.97 534.52,468.34 535.05,469.71 535.59,471.07 536.14,472.42 536.7,473.77 537.26,475.11 537.84,476.44 538.43,477.76 541,484 545,494 550,503 554.6,510 556.9,525 559.5,525 559.5,555" fill="none" stroke="#dc5862" stroke-width="1.25" stroke-linejoin="round" clip-path="url(#clipd)"/>
<polyline points="438.8,555 438.8,511 441.3,511 442.82,489.29 443.24,487.96 443.63,486.62 444,485.26 444.35,483.89 444.69,482.49 445.01,481.09 445.32,479.67 445.62,478.23 445.91,476.79 446.19,475.33 446.46,473.86 446.72,472.38 446.99,470.89 447.25,469.4 447.51,467.9 447.77,466.39 448.03,464.87 448.3,463.36 448.57,461.83 448.85,460.31 449.14,458.78 449.44,457.26 449.76,455.73 450.08,454.21 450.43,452.68 450.79,451.16 451.16,449.65 451.56,448.13 451.98,446.63 452.43,445.13 452.9,443.63 453.39,442.15 453.92,440.67 454.47,439.2 455.06,437.75 455.68,436.31 456.33,434.87 457.02,433.46 457.75,432.05 458.51,430.67 459.32,429.3 460.15,427.95 461.03,426.63 461.93,425.33 462.87,424.07 463.83,422.84 464.83,421.64 465.85,420.48 466.9,419.37 467.97,418.29 469.07,417.27 470.19,416.29 471.33,415.36 472.49,414.49 473.67,413.68 474.86,412.92 476.08,412.23 477.3,411.6 478.54,411.05 479.8,410.56 481.06,410.15 482.33,409.81 483.61,409.55 484.9,409.38 486.19,409.28 487.49,409.28 488.79,409.36 490.1,409.52 491.4,409.76 492.71,410.08 494.01,410.47 495.3,410.94 496.6,411.47 497.89,412.06 499.17,412.73 500.44,413.45 501.7,414.22 502.95,415.06 504.19,415.94 505.42,416.88 506.63,417.86 507.83,418.89 509,419.96 510.16,421.06 511.3,422.2 512.42,423.38 513.52,424.59 514.59,425.82 515.64,427.08 516.66,428.36 517.65,429.66 518.62,430.98 519.55,432.31 520.45,433.66 521.32,435.01 522.16,436.37 522.97,437.74 523.74,439.11 524.49,440.48 525.21,441.86 525.9,443.24 526.57,444.63 527.22,446.02 527.85,447.41 528.46,448.8 529.06,450.19 529.64,451.58 530.21,452.98 530.76,454.37 531.31,455.76 531.86,457.15 532.39,458.53 532.92,459.92 533.45,461.29 533.98,462.67 534.52,464.04 535.05,465.41 535.59,466.77 536.14,468.12 536.7,469.47 537.26,470.81 537.84,472.14 538.43,473.46 541,478 545,489 550,497 554.6,504 556.9,518 559.3,518 559.3,555" fill="none" stroke="#4a72c2" stroke-width="1.25" stroke-linejoin="round" clip-path="url(#clipd)"/>
<polyline points="438.8,555 438.8,505 441.3,505 442.82,483.29 443.24,481.96 443.63,480.62 444,479.26 444.35,477.89 444.69,476.49 445.01,475.09 445.32,473.67 445.62,472.23 445.91,470.79 446.19,469.33 446.46,467.86 446.72,466.38 446.99,464.89 447.25,463.4 447.51,461.9 447.77,460.39 448.03,458.87 448.3,457.36 448.57,455.83 448.85,454.31 449.14,452.78 449.44,451.26 449.76,449.73 450.08,448.21 450.43,446.68 450.79,445.16 451.16,443.65 451.56,442.13 451.98,440.63 452.43,439.13 452.9,437.63 453.39,436.15 453.92,434.67 454.47,433.2 455.06,431.75 455.68,430.31 456.33,428.87 457.02,427.46 457.75,426.05 458.51,424.67 459.32,423.3 460.15,421.95 461.03,420.63 461.93,419.33 462.87,418.07 463.83,416.84 464.83,415.64 465.85,414.48 466.9,413.37 467.97,412.29 469.07,411.27 470.19,410.29 471.33,409.36 472.49,408.49 473.67,407.68 474.86,406.92 476.08,406.23 477.3,405.6 478.54,405.05 479.8,404.56 481.06,404.15 482.33,403.81 483.61,403.55 484.9,403.38 486.19,403.28 487.49,403.28 488.79,403.36 490.1,403.52 491.4,403.76 492.71,404.08 494.01,404.47 495.3,404.94 496.6,405.47 497.89,406.06 499.17,406.73 500.44,407.45 501.7,408.22 502.95,409.06 504.19,409.94 505.42,410.88 506.63,411.86 507.83,412.89 509,413.96 510.16,415.06 511.3,416.2 512.42,417.38 513.52,418.59 514.59,419.82 515.64,421.08 516.66,422.36 517.65,423.66 518.62,424.98 519.55,426.31 520.45,427.66 521.32,429.01 522.16,430.37 522.97,431.74 523.74,433.11 524.49,434.48 525.21,435.86 525.9,437.24 526.57,438.63 527.22,440.02 527.85,441.41 528.46,442.8 529.06,444.19 529.64,445.58 530.21,446.98 530.76,448.37 531.31,449.76 531.86,451.15 532.39,452.53 532.92,453.92 533.45,455.29 533.98,456.67 534.52,458.04 535.05,459.41 535.59,460.77 536.14,462.12 536.7,463.47 537.26,464.81 537.84,466.14 538.43,467.46 541,472 545,483 550,492 554.6,498 556.9,512 559.1,512 559.1,555" fill="none" stroke="#4aa87a" stroke-width="1.25" stroke-linejoin="round" clip-path="url(#clipd)"/>
<polyline points="438.8,555 438.8,499 441.3,499 442.82,478.99 443.24,477.66 443.63,476.32 444,474.96 444.35,473.59 444.69,472.19 445.01,470.79 445.32,469.37 445.62,467.93 445.91,466.49 446.19,465.03 446.46,463.56 446.72,462.08 446.99,460.59 447.25,459.1 447.51,457.6 447.77,456.09 448.03,454.57 448.3,453.06 448.57,451.53 448.85,450.01 449.14,448.48 449.44,446.96 449.76,445.43 450.08,443.91 450.43,442.38 450.79,440.86 451.16,439.35 451.56,437.83 451.98,436.33 452.43,434.83 452.9,433.33 453.39,431.85 453.92,430.37 454.47,428.9 455.06,427.45 455.68,426.01 456.33,424.57 457.02,423.16 457.75,421.75 458.51,420.37 459.32,419 460.15,417.65 461.03,416.33 461.93,415.03 462.87,413.77 463.83,412.54 464.83,411.34 465.85,410.18 466.9,409.07 467.97,407.99 469.07,406.97 470.19,405.99 471.33,405.06 472.49,404.19 473.67,403.38 474.86,402.62 476.08,401.93 477.3,401.3 478.54,400.75 479.8,400.26 481.06,399.85 482.33,399.51 483.61,399.25 484.9,399.08 486.19,398.98 487.49,398.98 488.79,399.06 490.1,399.22 491.4,399.46 492.71,399.78 494.01,400.17 495.3,400.64 496.6,401.17 497.89,401.76 499.17,402.43 500.44,403.15 501.7,403.92 502.95,404.76 504.19,405.64 505.42,406.58 506.63,407.56 507.83,408.59 509,409.66 510.16,410.76 511.3,411.9 512.42,413.08 513.52,414.29 514.59,415.52 515.64,416.78 516.66,418.06 517.65,419.36 518.62,420.68 519.55,422.01 520.45,423.36 521.32,424.71 522.16,426.07 522.97,427.44 523.74,428.81 524.49,430.18 525.21,431.56 525.9,432.94 526.57,434.33 527.22,435.72 527.85,437.11 528.46,438.5 529.06,439.89 529.64,441.28 530.21,442.68 530.76,444.07 531.31,445.46 531.86,446.85 532.39,448.23 532.92,449.62 533.45,450.99 533.98,452.37 534.52,453.74 535.05,455.11 535.59,456.47 536.14,457.82 536.7,459.17 537.26,460.51 537.84,461.84 538.43,463.16 541,466 545,476 550,486 554.6,492 556.9,506 558.9,506 558.9,555" fill="none" stroke="#bb88e0" stroke-width="1.25" stroke-linejoin="round" clip-path="url(#clipd)"/>
<polyline points="438.7,555 438.7,480.6 441.03,480.4 441.34,478.95 441.64,477.5 441.92,476.05 442.18,474.59 442.43,473.13 442.67,471.66 442.9,470.19 443.11,468.72 443.32,467.24 443.52,465.76 443.71,464.28 443.89,462.79 444.07,461.3 444.24,459.81 444.41,458.31 444.57,456.82 444.73,455.32 444.89,453.82 445.05,452.32 445.21,450.82 445.37,449.31 445.53,447.81 445.69,446.3 445.86,444.8 446.03,443.29 446.21,441.79 446.4,440.28 446.59,438.77 446.79,437.27 447,435.76 447.22,434.26 447.45,432.75 447.69,431.25 447.95,429.75 448.22,428.25 448.5,426.75 448.8,425.26 449.12,423.76 449.45,422.27 449.8,420.78 450.18,419.3 450.57,417.81 450.98,416.33 451.41,414.85 451.87,413.38 452.35,411.91 452.86,410.44 453.39,408.98 453.94,407.52 454.53,406.07 455.14,404.62 455.78,403.17 456.45,401.73 457.15,400.31 457.88,398.89 458.64,397.49 459.42,396.1 460.23,394.74 461.07,393.39 461.93,392.08 462.82,390.79 463.74,389.53 464.68,388.31 465.64,387.12 466.63,385.97 467.64,384.86 468.68,383.8 469.74,382.79 470.82,381.82 471.92,380.91 473.04,380.05 474.19,379.25 475.35,378.51 476.54,377.83 477.75,377.22 478.97,376.68 480.22,376.21 481.48,375.82 482.76,375.5 484.06,375.26 485.37,375.1 486.7,375.03 488.05,375.04 489.41,375.13 490.78,375.31 492.15,375.56 493.53,375.88 494.91,376.28 496.28,376.74 497.65,377.28 499.01,377.87 500.36,378.53 501.7,379.25 503.02,380.02 504.32,380.85 505.6,381.73 506.86,382.66 508.08,383.64 509.28,384.66 510.44,385.72 511.58,386.82 512.69,387.95 513.77,389.12 514.82,390.32 515.85,391.55 516.84,392.8 517.81,394.08 518.76,395.38 519.67,396.69 520.56,398.02 521.43,399.35 522.27,400.7 523.08,402.06 523.87,403.42 524.64,404.79 525.38,406.16 526.11,407.53 526.81,408.91 527.5,410.29 528.17,411.67 528.83,413.05 529.47,414.43 530.1,415.81 530.73,417.19 531.34,418.57 531.94,419.95 532.53,421.32 533.12,422.69 533.71,424.06 534.29,425.42 534.87,426.77 535.45,428.12 536.03,429.46 536.62,430.79 537.2,432.11 537.79,433.43 538.39,434.73 539,436.02 539.61,437.3 540.23,438.58 541.3,444.2 544.3,444.2 547.5,454 551.4,468.5 553.5,471.2 556.4,479.6 558.8,490 561,490 561,555" fill="none" stroke="#c9a020" stroke-width="1.25" stroke-linejoin="round" clip-path="url(#clipd)"/>
<clipPath id="clipa"><rect x="55.3" y="43.2" width="255.4" height="205.5"/></clipPath>
<line x1="55.3" y1="248.7" x2="55.3" y2="252.9" stroke="#444" stroke-width="1.1"/>
<text x="55.3" y="263.8" text-anchor="middle" stroke-width="0.22"><tspan font-size="10.4" fill="#222" stroke="#222">0</tspan></text>
<line x1="71.26" y1="248.7" x2="71.26" y2="250.7" stroke="#444" stroke-width="1"/>
<line x1="87.22" y1="248.7" x2="87.22" y2="252.9" stroke="#444" stroke-width="1.1"/>
<text x="87.22" y="263.8" text-anchor="middle" stroke-width="0.22"><tspan font-size="10.4" fill="#222" stroke="#222">10</tspan></text>
<line x1="103.19" y1="248.7" x2="103.19" y2="250.7" stroke="#444" stroke-width="1"/>
<line x1="119.15" y1="248.7" x2="119.15" y2="252.9" stroke="#444" stroke-width="1.1"/>
<text x="119.15" y="263.8" text-anchor="middle" stroke-width="0.22"><tspan font-size="10.4" fill="#222" stroke="#222">20</tspan></text>
<line x1="135.11" y1="248.7" x2="135.11" y2="250.7" stroke="#444" stroke-width="1"/>
<line x1="151.07" y1="248.7" x2="151.07" y2="252.9" stroke="#444" stroke-width="1.1"/>
<text x="151.07" y="263.8" text-anchor="middle" stroke-width="0.22"><tspan font-size="10.4" fill="#222" stroke="#222">30</tspan></text>
<line x1="167.04" y1="248.7" x2="167.04" y2="250.7" stroke="#444" stroke-width="1"/>
<line x1="183" y1="248.7" x2="183" y2="252.9" stroke="#444" stroke-width="1.1"/>
<text x="183" y="263.8" text-anchor="middle" stroke-width="0.22"><tspan font-size="10.4" fill="#222" stroke="#222">40</tspan></text>
<line x1="198.96" y1="248.7" x2="198.96" y2="250.7" stroke="#444" stroke-width="1"/>
<line x1="214.92" y1="248.7" x2="214.92" y2="252.9" stroke="#444" stroke-width="1.1"/>
<text x="214.92" y="263.8" text-anchor="middle" stroke-width="0.22"><tspan font-size="10.4" fill="#222" stroke="#222">50</tspan></text>
<line x1="230.89" y1="248.7" x2="230.89" y2="250.7" stroke="#444" stroke-width="1"/>
<line x1="246.85" y1="248.7" x2="246.85" y2="252.9" stroke="#444" stroke-width="1.1"/>
<text x="246.85" y="263.8" text-anchor="middle" stroke-width="0.22"><tspan font-size="10.4" fill="#222" stroke="#222">60</tspan></text>
<line x1="262.81" y1="248.7" x2="262.81" y2="250.7" stroke="#444" stroke-width="1"/>
<line x1="278.77" y1="248.7" x2="278.77" y2="252.9" stroke="#444" stroke-width="1.1"/>
<text x="278.77" y="263.8" text-anchor="middle" stroke-width="0.22"><tspan font-size="10.4" fill="#222" stroke="#222">70</tspan></text>
<line x1="294.74" y1="248.7" x2="294.74" y2="250.7" stroke="#444" stroke-width="1"/>
<line x1="310.7" y1="248.7" x2="310.7" y2="252.9" stroke="#444" stroke-width="1.1"/>
<text x="310.7" y="263.8" text-anchor="middle" stroke-width="0.22"><tspan font-size="10.4" fill="#222" stroke="#222">80</tspan></text>
<line x1="51.3" y1="248.7" x2="55.3" y2="248.7" stroke="#444" stroke-width="1"/>
<text x="48.2" y="253" text-anchor="end" stroke-width="0.22"><tspan font-size="10.4" fill="#222" stroke="#222">10</tspan><tspan font-size="7.2" fill="#222" stroke="#222" dy="-4.6">17</tspan></text>
<line x1="51.3" y1="218.13" x2="55.3" y2="218.13" stroke="#444" stroke-width="1"/>
<text x="48.2" y="222.43" text-anchor="end" stroke-width="0.22"><tspan font-size="10.4" fill="#222" stroke="#222">10</tspan><tspan font-size="7.2" fill="#222" stroke="#222" dy="-4.6">18</tspan></text>
<line x1="51.3" y1="187.56" x2="55.3" y2="187.56" stroke="#444" stroke-width="1"/>
<text x="48.2" y="191.86" text-anchor="end" stroke-width="0.22"><tspan font-size="10.4" fill="#222" stroke="#222">10</tspan><tspan font-size="7.2" fill="#222" stroke="#222" dy="-4.6">19</tspan></text>
<line x1="51.3" y1="156.99" x2="55.3" y2="156.99" stroke="#444" stroke-width="1"/>
<text x="48.2" y="161.29" text-anchor="end" stroke-width="0.22"><tspan font-size="10.4" fill="#222" stroke="#222">10</tspan><tspan font-size="7.2" fill="#222" stroke="#222" dy="-4.6">20</tspan></text>
<line x1="51.3" y1="126.42" x2="55.3" y2="126.42" stroke="#444" stroke-width="1"/>
<text x="48.2" y="130.72" text-anchor="end" stroke-width="0.22"><tspan font-size="10.4" fill="#222" stroke="#222">10</tspan><tspan font-size="7.2" fill="#222" stroke="#222" dy="-4.6">21</tspan></text>
<line x1="51.3" y1="95.85" x2="55.3" y2="95.85" stroke="#444" stroke-width="1"/>
<text x="48.2" y="100.15" text-anchor="end" stroke-width="0.22"><tspan font-size="10.4" fill="#222" stroke="#222">10</tspan><tspan font-size="7.2" fill="#222" stroke="#222" dy="-4.6">22</tspan></text>
<line x1="51.3" y1="65.28" x2="55.3" y2="65.28" stroke="#444" stroke-width="1"/>
<text x="48.2" y="69.58" text-anchor="end" stroke-width="0.22"><tspan font-size="10.4" fill="#222" stroke="#222">10</tspan><tspan font-size="7.2" fill="#222" stroke="#222" dy="-4.6">23</tspan></text>
<line x1="53.3" y1="239.5" x2="55.3" y2="239.5" stroke="#444" stroke-width="0.9"/>
<line x1="53.3" y1="234.11" x2="55.3" y2="234.11" stroke="#444" stroke-width="0.9"/>
<line x1="53.3" y1="230.3" x2="55.3" y2="230.3" stroke="#444" stroke-width="0.9"/>
<line x1="53.3" y1="227.33" x2="55.3" y2="227.33" stroke="#444" stroke-width="0.9"/>
<line x1="53.3" y1="224.91" x2="55.3" y2="224.91" stroke="#444" stroke-width="0.9"/>
<line x1="53.3" y1="222.87" x2="55.3" y2="222.87" stroke="#444" stroke-width="0.9"/>
<line x1="53.3" y1="221.09" x2="55.3" y2="221.09" stroke="#444" stroke-width="0.9"/>
<line x1="53.3" y1="219.53" x2="55.3" y2="219.53" stroke="#444" stroke-width="0.9"/>
<line x1="53.3" y1="208.93" x2="55.3" y2="208.93" stroke="#444" stroke-width="0.9"/>
<line x1="53.3" y1="203.54" x2="55.3" y2="203.54" stroke="#444" stroke-width="0.9"/>
<line x1="53.3" y1="199.73" x2="55.3" y2="199.73" stroke="#444" stroke-width="0.9"/>
<line x1="53.3" y1="196.76" x2="55.3" y2="196.76" stroke="#444" stroke-width="0.9"/>
<line x1="53.3" y1="194.34" x2="55.3" y2="194.34" stroke="#444" stroke-width="0.9"/>
<line x1="53.3" y1="192.3" x2="55.3" y2="192.3" stroke="#444" stroke-width="0.9"/>
<line x1="53.3" y1="190.52" x2="55.3" y2="190.52" stroke="#444" stroke-width="0.9"/>
<line x1="53.3" y1="188.96" x2="55.3" y2="188.96" stroke="#444" stroke-width="0.9"/>
<line x1="53.3" y1="178.36" x2="55.3" y2="178.36" stroke="#444" stroke-width="0.9"/>
<line x1="53.3" y1="172.97" x2="55.3" y2="172.97" stroke="#444" stroke-width="0.9"/>
<line x1="53.3" y1="169.16" x2="55.3" y2="169.16" stroke="#444" stroke-width="0.9"/>
<line x1="53.3" y1="166.19" x2="55.3" y2="166.19" stroke="#444" stroke-width="0.9"/>
<line x1="53.3" y1="163.77" x2="55.3" y2="163.77" stroke="#444" stroke-width="0.9"/>
<line x1="53.3" y1="161.73" x2="55.3" y2="161.73" stroke="#444" stroke-width="0.9"/>
<line x1="53.3" y1="159.95" x2="55.3" y2="159.95" stroke="#444" stroke-width="0.9"/>
<line x1="53.3" y1="158.39" x2="55.3" y2="158.39" stroke="#444" stroke-width="0.9"/>
<line x1="53.3" y1="147.79" x2="55.3" y2="147.79" stroke="#444" stroke-width="0.9"/>
<line x1="53.3" y1="142.4" x2="55.3" y2="142.4" stroke="#444" stroke-width="0.9"/>
<line x1="53.3" y1="138.59" x2="55.3" y2="138.59" stroke="#444" stroke-width="0.9"/>
<line x1="53.3" y1="135.62" x2="55.3" y2="135.62" stroke="#444" stroke-width="0.9"/>
<line x1="53.3" y1="133.2" x2="55.3" y2="133.2" stroke="#444" stroke-width="0.9"/>
<line x1="53.3" y1="131.16" x2="55.3" y2="131.16" stroke="#444" stroke-width="0.9"/>
<line x1="53.3" y1="129.38" x2="55.3" y2="129.38" stroke="#444" stroke-width="0.9"/>
<line x1="53.3" y1="127.82" x2="55.3" y2="127.82" stroke="#444" stroke-width="0.9"/>
<line x1="53.3" y1="117.22" x2="55.3" y2="117.22" stroke="#444" stroke-width="0.9"/>
<line x1="53.3" y1="111.83" x2="55.3" y2="111.83" stroke="#444" stroke-width="0.9"/>
<line x1="53.3" y1="108.02" x2="55.3" y2="108.02" stroke="#444" stroke-width="0.9"/>
<line x1="53.3" y1="105.05" x2="55.3" y2="105.05" stroke="#444" stroke-width="0.9"/>
<line x1="53.3" y1="102.63" x2="55.3" y2="102.63" stroke="#444" stroke-width="0.9"/>
<line x1="53.3" y1="100.59" x2="55.3" y2="100.59" stroke="#444" stroke-width="0.9"/>
<line x1="53.3" y1="98.81" x2="55.3" y2="98.81" stroke="#444" stroke-width="0.9"/>
<line x1="53.3" y1="97.25" x2="55.3" y2="97.25" stroke="#444" stroke-width="0.9"/>
<line x1="53.3" y1="86.65" x2="55.3" y2="86.65" stroke="#444" stroke-width="0.9"/>
<line x1="53.3" y1="81.26" x2="55.3" y2="81.26" stroke="#444" stroke-width="0.9"/>
<line x1="53.3" y1="77.45" x2="55.3" y2="77.45" stroke="#444" stroke-width="0.9"/>
<line x1="53.3" y1="74.48" x2="55.3" y2="74.48" stroke="#444" stroke-width="0.9"/>
<line x1="53.3" y1="72.06" x2="55.3" y2="72.06" stroke="#444" stroke-width="0.9"/>
<line x1="53.3" y1="70.02" x2="55.3" y2="70.02" stroke="#444" stroke-width="0.9"/>
<line x1="53.3" y1="68.24" x2="55.3" y2="68.24" stroke="#444" stroke-width="0.9"/>
<line x1="53.3" y1="66.68" x2="55.3" y2="66.68" stroke="#444" stroke-width="0.9"/>
<line x1="53.3" y1="56.08" x2="55.3" y2="56.08" stroke="#444" stroke-width="0.9"/>
<line x1="53.3" y1="50.69" x2="55.3" y2="50.69" stroke="#444" stroke-width="0.9"/>
<line x1="53.3" y1="46.88" x2="55.3" y2="46.88" stroke="#444" stroke-width="0.9"/>
<line x1="53.3" y1="43.91" x2="55.3" y2="43.91" stroke="#444" stroke-width="0.9"/>
<text x="183" y="34.9" text-anchor="middle" stroke-width="0.22"><tspan font-size="10.8" fill="#222" stroke="#222">35 keV Ge, 25 nm beam: </tspan><tspan font-size="10.8" fill="#da2c3e" stroke="#da2c3e">Vacancy density (cm</tspan><tspan font-size="7" fill="#da2c3e" stroke="#da2c3e" dy="-4.6">-3</tspan><tspan font-size="10.8" fill="#da2c3e" stroke="#da2c3e" dy="4.6">)</tspan></text>
<text x="183" y="281.3" text-anchor="middle" stroke-width="0.22"><tspan font-size="10.5" fill="#222" stroke="#222">DEPTH (nm)</tspan></text>
<g transform="translate(17.3,197.6) rotate(-90)"><text x="0" y="0" text-anchor="start" stroke-width="0.22"><tspan font-size="10.85" fill="#222" stroke="#222">Concentration (ats/cm</tspan><tspan font-size="7" fill="#222" stroke="#222" dy="-4">3</tspan><tspan font-size="10.85" fill="#222" stroke="#222" dy="4">)</tspan></text></g>
<clipPath id="clipb"><rect x="418.5" y="43.2" width="255.1" height="205.5"/></clipPath>
<line x1="418.5" y1="248.7" x2="418.5" y2="252.9" stroke="#444" stroke-width="1.1"/>
<text x="418.5" y="263.8" text-anchor="middle" stroke-width="0.22"><tspan font-size="10.4" fill="#222" stroke="#222">0</tspan></text>
<line x1="430.1" y1="248.7" x2="430.1" y2="250.7" stroke="#444" stroke-width="1"/>
<line x1="441.69" y1="248.7" x2="441.69" y2="252.9" stroke="#444" stroke-width="1.1"/>
<text x="441.69" y="263.8" text-anchor="middle" stroke-width="0.22"><tspan font-size="10.4" fill="#222" stroke="#222">10</tspan></text>
<line x1="453.29" y1="248.7" x2="453.29" y2="250.7" stroke="#444" stroke-width="1"/>
<line x1="464.88" y1="248.7" x2="464.88" y2="252.9" stroke="#444" stroke-width="1.1"/>
<text x="464.88" y="263.8" text-anchor="middle" stroke-width="0.22"><tspan font-size="10.4" fill="#222" stroke="#222">20</tspan></text>
<line x1="476.48" y1="248.7" x2="476.48" y2="250.7" stroke="#444" stroke-width="1"/>
<line x1="488.07" y1="248.7" x2="488.07" y2="252.9" stroke="#444" stroke-width="1.1"/>
<text x="488.07" y="263.8" text-anchor="middle" stroke-width="0.22"><tspan font-size="10.4" fill="#222" stroke="#222">30</tspan></text>
<line x1="499.67" y1="248.7" x2="499.67" y2="250.7" stroke="#444" stroke-width="1"/>
<line x1="511.26" y1="248.7" x2="511.26" y2="252.9" stroke="#444" stroke-width="1.1"/>
<text x="511.26" y="263.8" text-anchor="middle" stroke-width="0.22"><tspan font-size="10.4" fill="#222" stroke="#222">40</tspan></text>
<line x1="522.86" y1="248.7" x2="522.86" y2="250.7" stroke="#444" stroke-width="1"/>
<line x1="534.45" y1="248.7" x2="534.45" y2="252.9" stroke="#444" stroke-width="1.1"/>
<text x="534.45" y="263.8" text-anchor="middle" stroke-width="0.22"><tspan font-size="10.4" fill="#222" stroke="#222">50</tspan></text>
<line x1="546.05" y1="248.7" x2="546.05" y2="250.7" stroke="#444" stroke-width="1"/>
<line x1="557.65" y1="248.7" x2="557.65" y2="252.9" stroke="#444" stroke-width="1.1"/>
<text x="557.65" y="263.8" text-anchor="middle" stroke-width="0.22"><tspan font-size="10.4" fill="#222" stroke="#222">60</tspan></text>
<line x1="569.24" y1="248.7" x2="569.24" y2="250.7" stroke="#444" stroke-width="1"/>
<line x1="580.84" y1="248.7" x2="580.84" y2="252.9" stroke="#444" stroke-width="1.1"/>
<text x="580.84" y="263.8" text-anchor="middle" stroke-width="0.22"><tspan font-size="10.4" fill="#222" stroke="#222">70</tspan></text>
<line x1="592.43" y1="248.7" x2="592.43" y2="250.7" stroke="#444" stroke-width="1"/>
<line x1="604.03" y1="248.7" x2="604.03" y2="252.9" stroke="#444" stroke-width="1.1"/>
<text x="604.03" y="263.8" text-anchor="middle" stroke-width="0.22"><tspan font-size="10.4" fill="#222" stroke="#222">80</tspan></text>
<line x1="615.62" y1="248.7" x2="615.62" y2="250.7" stroke="#444" stroke-width="1"/>
<line x1="627.22" y1="248.7" x2="627.22" y2="252.9" stroke="#444" stroke-width="1.1"/>
<text x="627.22" y="263.8" text-anchor="middle" stroke-width="0.22"><tspan font-size="10.4" fill="#222" stroke="#222">90</tspan></text>
<line x1="638.81" y1="248.7" x2="638.81" y2="250.7" stroke="#444" stroke-width="1"/>
<line x1="650.41" y1="248.7" x2="650.41" y2="252.9" stroke="#444" stroke-width="1.1"/>
<text x="650.41" y="263.8" text-anchor="middle" stroke-width="0.22"><tspan font-size="10.4" fill="#222" stroke="#222">100</tspan></text>
<line x1="662" y1="248.7" x2="662" y2="250.7" stroke="#444" stroke-width="1"/>
<line x1="673.6" y1="248.7" x2="673.6" y2="252.9" stroke="#444" stroke-width="1.1"/>
<text x="673.6" y="263.8" text-anchor="middle" stroke-width="0.22"><tspan font-size="10.4" fill="#222" stroke="#222">110</tspan></text>
<line x1="414.5" y1="248.7" x2="418.5" y2="248.7" stroke="#444" stroke-width="1"/>
<text x="411.4" y="253" text-anchor="end" stroke-width="0.22"><tspan font-size="10.4" fill="#222" stroke="#222">10</tspan><tspan font-size="7.2" fill="#222" stroke="#222" dy="-4.6">17</tspan></text>
<line x1="414.5" y1="218.13" x2="418.5" y2="218.13" stroke="#444" stroke-width="1"/>
<text x="411.4" y="222.43" text-anchor="end" stroke-width="0.22"><tspan font-size="10.4" fill="#222" stroke="#222">10</tspan><tspan font-size="7.2" fill="#222" stroke="#222" dy="-4.6">18</tspan></text>
<line x1="414.5" y1="187.56" x2="418.5" y2="187.56" stroke="#444" stroke-width="1"/>
<text x="411.4" y="191.86" text-anchor="end" stroke-width="0.22"><tspan font-size="10.4" fill="#222" stroke="#222">10</tspan><tspan font-size="7.2" fill="#222" stroke="#222" dy="-4.6">19</tspan></text>
<line x1="414.5" y1="156.99" x2="418.5" y2="156.99" stroke="#444" stroke-width="1"/>
<text x="411.4" y="161.29" text-anchor="end" stroke-width="0.22"><tspan font-size="10.4" fill="#222" stroke="#222">10</tspan><tspan font-size="7.2" fill="#222" stroke="#222" dy="-4.6">20</tspan></text>
<line x1="414.5" y1="126.42" x2="418.5" y2="126.42" stroke="#444" stroke-width="1"/>
<text x="411.4" y="130.72" text-anchor="end" stroke-width="0.22"><tspan font-size="10.4" fill="#222" stroke="#222">10</tspan><tspan font-size="7.2" fill="#222" stroke="#222" dy="-4.6">21</tspan></text>
<line x1="414.5" y1="95.85" x2="418.5" y2="95.85" stroke="#444" stroke-width="1"/>
<text x="411.4" y="100.15" text-anchor="end" stroke-width="0.22"><tspan font-size="10.4" fill="#222" stroke="#222">10</tspan><tspan font-size="7.2" fill="#222" stroke="#222" dy="-4.6">22</tspan></text>
<line x1="414.5" y1="65.28" x2="418.5" y2="65.28" stroke="#444" stroke-width="1"/>
<text x="411.4" y="69.58" text-anchor="end" stroke-width="0.22"><tspan font-size="10.4" fill="#222" stroke="#222">10</tspan><tspan font-size="7.2" fill="#222" stroke="#222" dy="-4.6">23</tspan></text>
<line x1="416.5" y1="239.5" x2="418.5" y2="239.5" stroke="#444" stroke-width="0.9"/>
<line x1="416.5" y1="234.11" x2="418.5" y2="234.11" stroke="#444" stroke-width="0.9"/>
<line x1="416.5" y1="230.3" x2="418.5" y2="230.3" stroke="#444" stroke-width="0.9"/>
<line x1="416.5" y1="227.33" x2="418.5" y2="227.33" stroke="#444" stroke-width="0.9"/>
<line x1="416.5" y1="224.91" x2="418.5" y2="224.91" stroke="#444" stroke-width="0.9"/>
<line x1="416.5" y1="222.87" x2="418.5" y2="222.87" stroke="#444" stroke-width="0.9"/>
<line x1="416.5" y1="221.09" x2="418.5" y2="221.09" stroke="#444" stroke-width="0.9"/>
<line x1="416.5" y1="219.53" x2="418.5" y2="219.53" stroke="#444" stroke-width="0.9"/>
<line x1="416.5" y1="208.93" x2="418.5" y2="208.93" stroke="#444" stroke-width="0.9"/>
<line x1="416.5" y1="203.54" x2="418.5" y2="203.54" stroke="#444" stroke-width="0.9"/>
<line x1="416.5" y1="199.73" x2="418.5" y2="199.73" stroke="#444" stroke-width="0.9"/>
<line x1="416.5" y1="196.76" x2="418.5" y2="196.76" stroke="#444" stroke-width="0.9"/>
<line x1="416.5" y1="194.34" x2="418.5" y2="194.34" stroke="#444" stroke-width="0.9"/>
<line x1="416.5" y1="192.3" x2="418.5" y2="192.3" stroke="#444" stroke-width="0.9"/>
<line x1="416.5" y1="190.52" x2="418.5" y2="190.52" stroke="#444" stroke-width="0.9"/>
<line x1="416.5" y1="188.96" x2="418.5" y2="188.96" stroke="#444" stroke-width="0.9"/>
<line x1="416.5" y1="178.36" x2="418.5" y2="178.36" stroke="#444" stroke-width="0.9"/>
<line x1="416.5" y1="172.97" x2="418.5" y2="172.97" stroke="#444" stroke-width="0.9"/>
<line x1="416.5" y1="169.16" x2="418.5" y2="169.16" stroke="#444" stroke-width="0.9"/>
<line x1="416.5" y1="166.19" x2="418.5" y2="166.19" stroke="#444" stroke-width="0.9"/>
<line x1="416.5" y1="163.77" x2="418.5" y2="163.77" stroke="#444" stroke-width="0.9"/>
<line x1="416.5" y1="161.73" x2="418.5" y2="161.73" stroke="#444" stroke-width="0.9"/>
<line x1="416.5" y1="159.95" x2="418.5" y2="159.95" stroke="#444" stroke-width="0.9"/>
<line x1="416.5" y1="158.39" x2="418.5" y2="158.39" stroke="#444" stroke-width="0.9"/>
<line x1="416.5" y1="147.79" x2="418.5" y2="147.79" stroke="#444" stroke-width="0.9"/>
<line x1="416.5" y1="142.4" x2="418.5" y2="142.4" stroke="#444" stroke-width="0.9"/>
<line x1="416.5" y1="138.59" x2="418.5" y2="138.59" stroke="#444" stroke-width="0.9"/>
<line x1="416.5" y1="135.62" x2="418.5" y2="135.62" stroke="#444" stroke-width="0.9"/>
<line x1="416.5" y1="133.2" x2="418.5" y2="133.2" stroke="#444" stroke-width="0.9"/>
<line x1="416.5" y1="131.16" x2="418.5" y2="131.16" stroke="#444" stroke-width="0.9"/>
<line x1="416.5" y1="129.38" x2="418.5" y2="129.38" stroke="#444" stroke-width="0.9"/>
<line x1="416.5" y1="127.82" x2="418.5" y2="127.82" stroke="#444" stroke-width="0.9"/>
<line x1="416.5" y1="117.22" x2="418.5" y2="117.22" stroke="#444" stroke-width="0.9"/>
<line x1="416.5" y1="111.83" x2="418.5" y2="111.83" stroke="#444" stroke-width="0.9"/>
<line x1="416.5" y1="108.02" x2="418.5" y2="108.02" stroke="#444" stroke-width="0.9"/>
<line x1="416.5" y1="105.05" x2="418.5" y2="105.05" stroke="#444" stroke-width="0.9"/>
<line x1="416.5" y1="102.63" x2="418.5" y2="102.63" stroke="#444" stroke-width="0.9"/>
<line x1="416.5" y1="100.59" x2="418.5" y2="100.59" stroke="#444" stroke-width="0.9"/>
<line x1="416.5" y1="98.81" x2="418.5" y2="98.81" stroke="#444" stroke-width="0.9"/>
<line x1="416.5" y1="97.25" x2="418.5" y2="97.25" stroke="#444" stroke-width="0.9"/>
<line x1="416.5" y1="86.65" x2="418.5" y2="86.65" stroke="#444" stroke-width="0.9"/>
<line x1="416.5" y1="81.26" x2="418.5" y2="81.26" stroke="#444" stroke-width="0.9"/>
<line x1="416.5" y1="77.45" x2="418.5" y2="77.45" stroke="#444" stroke-width="0.9"/>
<line x1="416.5" y1="74.48" x2="418.5" y2="74.48" stroke="#444" stroke-width="0.9"/>
<line x1="416.5" y1="72.06" x2="418.5" y2="72.06" stroke="#444" stroke-width="0.9"/>
<line x1="416.5" y1="70.02" x2="418.5" y2="70.02" stroke="#444" stroke-width="0.9"/>
<line x1="416.5" y1="68.24" x2="418.5" y2="68.24" stroke="#444" stroke-width="0.9"/>
<line x1="416.5" y1="66.68" x2="418.5" y2="66.68" stroke="#444" stroke-width="0.9"/>
<line x1="416.5" y1="56.08" x2="418.5" y2="56.08" stroke="#444" stroke-width="0.9"/>
<line x1="416.5" y1="50.69" x2="418.5" y2="50.69" stroke="#444" stroke-width="0.9"/>
<line x1="416.5" y1="46.88" x2="418.5" y2="46.88" stroke="#444" stroke-width="0.9"/>
<line x1="416.5" y1="43.91" x2="418.5" y2="43.91" stroke="#444" stroke-width="0.9"/>
<text x="546.05" y="34.9" text-anchor="middle" stroke-width="0.22"><tspan font-size="10.8" fill="#222" stroke="#222">70 keV Ge, 25 nm beam: </tspan><tspan font-size="10.8" fill="#da2c3e" stroke="#da2c3e">Vacancy density (cm</tspan><tspan font-size="7" fill="#da2c3e" stroke="#da2c3e" dy="-4.6">-3</tspan><tspan font-size="10.8" fill="#da2c3e" stroke="#da2c3e" dy="4.6">)</tspan></text>
<text x="546.05" y="281.3" text-anchor="middle" stroke-width="0.22"><tspan font-size="10.5" fill="#222" stroke="#222">DEPTH (nm)</tspan></text>
<g transform="translate(380.5,197.6) rotate(-90)"><text x="0" y="0" text-anchor="start" stroke-width="0.22"><tspan font-size="10.85" fill="#222" stroke="#222">Concentration (ats/cm</tspan><tspan font-size="7" fill="#222" stroke="#222" dy="-4">3</tspan><tspan font-size="10.85" fill="#222" stroke="#222" dy="4">)</tspan></text></g>
<clipPath id="clipc"><rect x="55.4" y="338.3" width="255.6" height="205.1"/></clipPath>
<line x1="55.4" y1="543.4" x2="55.4" y2="547.6" stroke="#444" stroke-width="1.1"/>
<text x="55.4" y="558.5" text-anchor="middle" stroke-width="0.22"><tspan font-size="10.4" fill="#222" stroke="#222">0</tspan></text>
<line x1="71.38" y1="543.4" x2="71.38" y2="545.4" stroke="#444" stroke-width="1"/>
<line x1="87.35" y1="543.4" x2="87.35" y2="547.6" stroke="#444" stroke-width="1.1"/>
<text x="87.35" y="558.5" text-anchor="middle" stroke-width="0.22"><tspan font-size="10.4" fill="#222" stroke="#222">10</tspan></text>
<line x1="103.32" y1="543.4" x2="103.32" y2="545.4" stroke="#444" stroke-width="1"/>
<line x1="119.3" y1="543.4" x2="119.3" y2="547.6" stroke="#444" stroke-width="1.1"/>
<text x="119.3" y="558.5" text-anchor="middle" stroke-width="0.22"><tspan font-size="10.4" fill="#222" stroke="#222">20</tspan></text>
<line x1="135.28" y1="543.4" x2="135.28" y2="545.4" stroke="#444" stroke-width="1"/>
<line x1="151.25" y1="543.4" x2="151.25" y2="547.6" stroke="#444" stroke-width="1.1"/>
<text x="151.25" y="558.5" text-anchor="middle" stroke-width="0.22"><tspan font-size="10.4" fill="#222" stroke="#222">30</tspan></text>
<line x1="167.22" y1="543.4" x2="167.22" y2="545.4" stroke="#444" stroke-width="1"/>
<line x1="183.2" y1="543.4" x2="183.2" y2="547.6" stroke="#444" stroke-width="1.1"/>
<text x="183.2" y="558.5" text-anchor="middle" stroke-width="0.22"><tspan font-size="10.4" fill="#222" stroke="#222">40</tspan></text>
<line x1="199.18" y1="543.4" x2="199.18" y2="545.4" stroke="#444" stroke-width="1"/>
<line x1="215.15" y1="543.4" x2="215.15" y2="547.6" stroke="#444" stroke-width="1.1"/>
<text x="215.15" y="558.5" text-anchor="middle" stroke-width="0.22"><tspan font-size="10.4" fill="#222" stroke="#222">50</tspan></text>
<line x1="231.12" y1="543.4" x2="231.12" y2="545.4" stroke="#444" stroke-width="1"/>
<line x1="247.1" y1="543.4" x2="247.1" y2="547.6" stroke="#444" stroke-width="1.1"/>
<text x="247.1" y="558.5" text-anchor="middle" stroke-width="0.22"><tspan font-size="10.4" fill="#222" stroke="#222">60</tspan></text>
<line x1="263.07" y1="543.4" x2="263.07" y2="545.4" stroke="#444" stroke-width="1"/>
<line x1="279.05" y1="543.4" x2="279.05" y2="547.6" stroke="#444" stroke-width="1.1"/>
<text x="279.05" y="558.5" text-anchor="middle" stroke-width="0.22"><tspan font-size="10.4" fill="#222" stroke="#222">70</tspan></text>
<line x1="295.02" y1="543.4" x2="295.02" y2="545.4" stroke="#444" stroke-width="1"/>
<line x1="311" y1="543.4" x2="311" y2="547.6" stroke="#444" stroke-width="1.1"/>
<text x="311" y="558.5" text-anchor="middle" stroke-width="0.22"><tspan font-size="10.4" fill="#222" stroke="#222">80</tspan></text>
<line x1="51.4" y1="543.4" x2="55.4" y2="543.4" stroke="#444" stroke-width="1"/>
<text x="48.3" y="547.7" text-anchor="end" stroke-width="0.22"><tspan font-size="10.4" fill="#222" stroke="#222">10</tspan><tspan font-size="7.2" fill="#222" stroke="#222" dy="-4.6">15</tspan></text>
<line x1="51.4" y1="509.22" x2="55.4" y2="509.22" stroke="#444" stroke-width="1"/>
<text x="48.3" y="513.52" text-anchor="end" stroke-width="0.22"><tspan font-size="10.4" fill="#222" stroke="#222">10</tspan><tspan font-size="7.2" fill="#222" stroke="#222" dy="-4.6">16</tspan></text>
<line x1="51.4" y1="475.03" x2="55.4" y2="475.03" stroke="#444" stroke-width="1"/>
<text x="48.3" y="479.33" text-anchor="end" stroke-width="0.22"><tspan font-size="10.4" fill="#222" stroke="#222">10</tspan><tspan font-size="7.2" fill="#222" stroke="#222" dy="-4.6">17</tspan></text>
<line x1="51.4" y1="440.85" x2="55.4" y2="440.85" stroke="#444" stroke-width="1"/>
<text x="48.3" y="445.15" text-anchor="end" stroke-width="0.22"><tspan font-size="10.4" fill="#222" stroke="#222">10</tspan><tspan font-size="7.2" fill="#222" stroke="#222" dy="-4.6">18</tspan></text>
<line x1="51.4" y1="406.67" x2="55.4" y2="406.67" stroke="#444" stroke-width="1"/>
<text x="48.3" y="410.97" text-anchor="end" stroke-width="0.22"><tspan font-size="10.4" fill="#222" stroke="#222">10</tspan><tspan font-size="7.2" fill="#222" stroke="#222" dy="-4.6">19</tspan></text>
<line x1="51.4" y1="372.48" x2="55.4" y2="372.48" stroke="#444" stroke-width="1"/>
<text x="48.3" y="376.78" text-anchor="end" stroke-width="0.22"><tspan font-size="10.4" fill="#222" stroke="#222">10</tspan><tspan font-size="7.2" fill="#222" stroke="#222" dy="-4.6">20</tspan></text>
<line x1="51.4" y1="338.3" x2="55.4" y2="338.3" stroke="#444" stroke-width="1"/>
<text x="48.3" y="342.6" text-anchor="end" stroke-width="0.22"><tspan font-size="10.4" fill="#222" stroke="#222">10</tspan><tspan font-size="7.2" fill="#222" stroke="#222" dy="-4.6">21</tspan></text>
<line x1="53.4" y1="533.11" x2="55.4" y2="533.11" stroke="#444" stroke-width="0.9"/>
<line x1="53.4" y1="527.09" x2="55.4" y2="527.09" stroke="#444" stroke-width="0.9"/>
<line x1="53.4" y1="522.82" x2="55.4" y2="522.82" stroke="#444" stroke-width="0.9"/>
<line x1="53.4" y1="519.51" x2="55.4" y2="519.51" stroke="#444" stroke-width="0.9"/>
<line x1="53.4" y1="516.8" x2="55.4" y2="516.8" stroke="#444" stroke-width="0.9"/>
<line x1="53.4" y1="514.51" x2="55.4" y2="514.51" stroke="#444" stroke-width="0.9"/>
<line x1="53.4" y1="512.53" x2="55.4" y2="512.53" stroke="#444" stroke-width="0.9"/>
<line x1="53.4" y1="510.78" x2="55.4" y2="510.78" stroke="#444" stroke-width="0.9"/>
<line x1="53.4" y1="498.93" x2="55.4" y2="498.93" stroke="#444" stroke-width="0.9"/>
<line x1="53.4" y1="492.91" x2="55.4" y2="492.91" stroke="#444" stroke-width="0.9"/>
<line x1="53.4" y1="488.64" x2="55.4" y2="488.64" stroke="#444" stroke-width="0.9"/>
<line x1="53.4" y1="485.32" x2="55.4" y2="485.32" stroke="#444" stroke-width="0.9"/>
<line x1="53.4" y1="482.62" x2="55.4" y2="482.62" stroke="#444" stroke-width="0.9"/>
<line x1="53.4" y1="480.33" x2="55.4" y2="480.33" stroke="#444" stroke-width="0.9"/>
<line x1="53.4" y1="478.35" x2="55.4" y2="478.35" stroke="#444" stroke-width="0.9"/>
<line x1="53.4" y1="476.6" x2="55.4" y2="476.6" stroke="#444" stroke-width="0.9"/>
<line x1="53.4" y1="464.74" x2="55.4" y2="464.74" stroke="#444" stroke-width="0.9"/>
<line x1="53.4" y1="458.72" x2="55.4" y2="458.72" stroke="#444" stroke-width="0.9"/>
<line x1="53.4" y1="454.45" x2="55.4" y2="454.45" stroke="#444" stroke-width="0.9"/>
<line x1="53.4" y1="451.14" x2="55.4" y2="451.14" stroke="#444" stroke-width="0.9"/>
<line x1="53.4" y1="448.43" x2="55.4" y2="448.43" stroke="#444" stroke-width="0.9"/>
<line x1="53.4" y1="446.15" x2="55.4" y2="446.15" stroke="#444" stroke-width="0.9"/>
<line x1="53.4" y1="444.16" x2="55.4" y2="444.16" stroke="#444" stroke-width="0.9"/>
<line x1="53.4" y1="442.41" x2="55.4" y2="442.41" stroke="#444" stroke-width="0.9"/>
<line x1="53.4" y1="430.56" x2="55.4" y2="430.56" stroke="#444" stroke-width="0.9"/>
<line x1="53.4" y1="424.54" x2="55.4" y2="424.54" stroke="#444" stroke-width="0.9"/>
<line x1="53.4" y1="420.27" x2="55.4" y2="420.27" stroke="#444" stroke-width="0.9"/>
<line x1="53.4" y1="416.96" x2="55.4" y2="416.96" stroke="#444" stroke-width="0.9"/>
<line x1="53.4" y1="414.25" x2="55.4" y2="414.25" stroke="#444" stroke-width="0.9"/>
<line x1="53.4" y1="411.96" x2="55.4" y2="411.96" stroke="#444" stroke-width="0.9"/>
<line x1="53.4" y1="409.98" x2="55.4" y2="409.98" stroke="#444" stroke-width="0.9"/>
<line x1="53.4" y1="408.23" x2="55.4" y2="408.23" stroke="#444" stroke-width="0.9"/>
<line x1="53.4" y1="396.38" x2="55.4" y2="396.38" stroke="#444" stroke-width="0.9"/>
<line x1="53.4" y1="390.36" x2="55.4" y2="390.36" stroke="#444" stroke-width="0.9"/>
<line x1="53.4" y1="386.09" x2="55.4" y2="386.09" stroke="#444" stroke-width="0.9"/>
<line x1="53.4" y1="382.77" x2="55.4" y2="382.77" stroke="#444" stroke-width="0.9"/>
<line x1="53.4" y1="380.07" x2="55.4" y2="380.07" stroke="#444" stroke-width="0.9"/>
<line x1="53.4" y1="377.78" x2="55.4" y2="377.78" stroke="#444" stroke-width="0.9"/>
<line x1="53.4" y1="375.8" x2="55.4" y2="375.8" stroke="#444" stroke-width="0.9"/>
<line x1="53.4" y1="374.05" x2="55.4" y2="374.05" stroke="#444" stroke-width="0.9"/>
<line x1="53.4" y1="362.19" x2="55.4" y2="362.19" stroke="#444" stroke-width="0.9"/>
<line x1="53.4" y1="356.17" x2="55.4" y2="356.17" stroke="#444" stroke-width="0.9"/>
<line x1="53.4" y1="351.9" x2="55.4" y2="351.9" stroke="#444" stroke-width="0.9"/>
<line x1="53.4" y1="348.59" x2="55.4" y2="348.59" stroke="#444" stroke-width="0.9"/>
<line x1="53.4" y1="345.88" x2="55.4" y2="345.88" stroke="#444" stroke-width="0.9"/>
<line x1="53.4" y1="343.6" x2="55.4" y2="343.6" stroke="#444" stroke-width="0.9"/>
<line x1="53.4" y1="341.61" x2="55.4" y2="341.61" stroke="#444" stroke-width="0.9"/>
<line x1="53.4" y1="339.86" x2="55.4" y2="339.86" stroke="#444" stroke-width="0.9"/>
<text x="183.2" y="330" text-anchor="middle" stroke-width="0.22"><tspan font-size="10.8" fill="#222" stroke="#222">35 keV Ge, 25 nm beam: </tspan><tspan font-size="10.8" fill="#da2c3e" stroke="#da2c3e">Ge ions</tspan></text>
<text x="183.2" y="576" text-anchor="middle" stroke-width="0.22"><tspan font-size="10.5" fill="#222" stroke="#222">DEPTH (nm)</tspan></text>
<g transform="translate(17.4,492.1) rotate(-90)"><text x="0" y="0" text-anchor="start" stroke-width="0.22"><tspan font-size="10.85" fill="#222" stroke="#222">Concentration (ats/cm</tspan><tspan font-size="7" fill="#222" stroke="#222" dy="-4">3</tspan><tspan font-size="10.85" fill="#222" stroke="#222" dy="4">)</tspan></text></g>
<clipPath id="clipd"><rect x="418.5" y="338.3" width="255.1" height="205.1"/></clipPath>
<line x1="418.5" y1="543.4" x2="418.5" y2="547.6" stroke="#444" stroke-width="1.1"/>
<text x="418.5" y="558.5" text-anchor="middle" stroke-width="0.22"><tspan font-size="10.4" fill="#222" stroke="#222">0</tspan></text>
<line x1="430.1" y1="543.4" x2="430.1" y2="545.4" stroke="#444" stroke-width="1"/>
<line x1="441.69" y1="543.4" x2="441.69" y2="547.6" stroke="#444" stroke-width="1.1"/>
<text x="441.69" y="558.5" text-anchor="middle" stroke-width="0.22"><tspan font-size="10.4" fill="#222" stroke="#222">10</tspan></text>
<line x1="453.29" y1="543.4" x2="453.29" y2="545.4" stroke="#444" stroke-width="1"/>
<line x1="464.88" y1="543.4" x2="464.88" y2="547.6" stroke="#444" stroke-width="1.1"/>
<text x="464.88" y="558.5" text-anchor="middle" stroke-width="0.22"><tspan font-size="10.4" fill="#222" stroke="#222">20</tspan></text>
<line x1="476.48" y1="543.4" x2="476.48" y2="545.4" stroke="#444" stroke-width="1"/>
<line x1="488.07" y1="543.4" x2="488.07" y2="547.6" stroke="#444" stroke-width="1.1"/>
<text x="488.07" y="558.5" text-anchor="middle" stroke-width="0.22"><tspan font-size="10.4" fill="#222" stroke="#222">30</tspan></text>
<line x1="499.67" y1="543.4" x2="499.67" y2="545.4" stroke="#444" stroke-width="1"/>
<line x1="511.26" y1="543.4" x2="511.26" y2="547.6" stroke="#444" stroke-width="1.1"/>
<text x="511.26" y="558.5" text-anchor="middle" stroke-width="0.22"><tspan font-size="10.4" fill="#222" stroke="#222">40</tspan></text>
<line x1="522.86" y1="543.4" x2="522.86" y2="545.4" stroke="#444" stroke-width="1"/>
<line x1="534.45" y1="543.4" x2="534.45" y2="547.6" stroke="#444" stroke-width="1.1"/>
<text x="534.45" y="558.5" text-anchor="middle" stroke-width="0.22"><tspan font-size="10.4" fill="#222" stroke="#222">50</tspan></text>
<line x1="546.05" y1="543.4" x2="546.05" y2="545.4" stroke="#444" stroke-width="1"/>
<line x1="557.65" y1="543.4" x2="557.65" y2="547.6" stroke="#444" stroke-width="1.1"/>
<text x="557.65" y="558.5" text-anchor="middle" stroke-width="0.22"><tspan font-size="10.4" fill="#222" stroke="#222">60</tspan></text>
<line x1="569.24" y1="543.4" x2="569.24" y2="545.4" stroke="#444" stroke-width="1"/>
<line x1="580.84" y1="543.4" x2="580.84" y2="547.6" stroke="#444" stroke-width="1.1"/>
<text x="580.84" y="558.5" text-anchor="middle" stroke-width="0.22"><tspan font-size="10.4" fill="#222" stroke="#222">70</tspan></text>
<line x1="592.43" y1="543.4" x2="592.43" y2="545.4" stroke="#444" stroke-width="1"/>
<line x1="604.03" y1="543.4" x2="604.03" y2="547.6" stroke="#444" stroke-width="1.1"/>
<text x="604.03" y="558.5" text-anchor="middle" stroke-width="0.22"><tspan font-size="10.4" fill="#222" stroke="#222">80</tspan></text>
<line x1="615.62" y1="543.4" x2="615.62" y2="545.4" stroke="#444" stroke-width="1"/>
<line x1="627.22" y1="543.4" x2="627.22" y2="547.6" stroke="#444" stroke-width="1.1"/>
<text x="627.22" y="558.5" text-anchor="middle" stroke-width="0.22"><tspan font-size="10.4" fill="#222" stroke="#222">90</tspan></text>
<line x1="638.81" y1="543.4" x2="638.81" y2="545.4" stroke="#444" stroke-width="1"/>
<line x1="650.41" y1="543.4" x2="650.41" y2="547.6" stroke="#444" stroke-width="1.1"/>
<text x="650.41" y="558.5" text-anchor="middle" stroke-width="0.22"><tspan font-size="10.4" fill="#222" stroke="#222">100</tspan></text>
<line x1="662" y1="543.4" x2="662" y2="545.4" stroke="#444" stroke-width="1"/>
<line x1="673.6" y1="543.4" x2="673.6" y2="547.6" stroke="#444" stroke-width="1.1"/>
<text x="673.6" y="558.5" text-anchor="middle" stroke-width="0.22"><tspan font-size="10.4" fill="#222" stroke="#222">110</tspan></text>
<line x1="414.5" y1="543.4" x2="418.5" y2="543.4" stroke="#444" stroke-width="1"/>
<text x="411.4" y="547.7" text-anchor="end" stroke-width="0.22"><tspan font-size="10.4" fill="#222" stroke="#222">10</tspan><tspan font-size="7.2" fill="#222" stroke="#222" dy="-4.6">15</tspan></text>
<line x1="414.5" y1="509.22" x2="418.5" y2="509.22" stroke="#444" stroke-width="1"/>
<text x="411.4" y="513.52" text-anchor="end" stroke-width="0.22"><tspan font-size="10.4" fill="#222" stroke="#222">10</tspan><tspan font-size="7.2" fill="#222" stroke="#222" dy="-4.6">16</tspan></text>
<line x1="414.5" y1="475.03" x2="418.5" y2="475.03" stroke="#444" stroke-width="1"/>
<text x="411.4" y="479.33" text-anchor="end" stroke-width="0.22"><tspan font-size="10.4" fill="#222" stroke="#222">10</tspan><tspan font-size="7.2" fill="#222" stroke="#222" dy="-4.6">17</tspan></text>
<line x1="414.5" y1="440.85" x2="418.5" y2="440.85" stroke="#444" stroke-width="1"/>
<text x="411.4" y="445.15" text-anchor="end" stroke-width="0.22"><tspan font-size="10.4" fill="#222" stroke="#222">10</tspan><tspan font-size="7.2" fill="#222" stroke="#222" dy="-4.6">18</tspan></text>
<line x1="414.5" y1="406.67" x2="418.5" y2="406.67" stroke="#444" stroke-width="1"/>
<text x="411.4" y="410.97" text-anchor="end" stroke-width="0.22"><tspan font-size="10.4" fill="#222" stroke="#222">10</tspan><tspan font-size="7.2" fill="#222" stroke="#222" dy="-4.6">19</tspan></text>
<line x1="414.5" y1="372.48" x2="418.5" y2="372.48" stroke="#444" stroke-width="1"/>
<text x="411.4" y="376.78" text-anchor="end" stroke-width="0.22"><tspan font-size="10.4" fill="#222" stroke="#222">10</tspan><tspan font-size="7.2" fill="#222" stroke="#222" dy="-4.6">20</tspan></text>
<line x1="414.5" y1="338.3" x2="418.5" y2="338.3" stroke="#444" stroke-width="1"/>
<text x="411.4" y="342.6" text-anchor="end" stroke-width="0.22"><tspan font-size="10.4" fill="#222" stroke="#222">10</tspan><tspan font-size="7.2" fill="#222" stroke="#222" dy="-4.6">21</tspan></text>
<line x1="416.5" y1="533.11" x2="418.5" y2="533.11" stroke="#444" stroke-width="0.9"/>
<line x1="416.5" y1="527.09" x2="418.5" y2="527.09" stroke="#444" stroke-width="0.9"/>
<line x1="416.5" y1="522.82" x2="418.5" y2="522.82" stroke="#444" stroke-width="0.9"/>
<line x1="416.5" y1="519.51" x2="418.5" y2="519.51" stroke="#444" stroke-width="0.9"/>
<line x1="416.5" y1="516.8" x2="418.5" y2="516.8" stroke="#444" stroke-width="0.9"/>
<line x1="416.5" y1="514.51" x2="418.5" y2="514.51" stroke="#444" stroke-width="0.9"/>
<line x1="416.5" y1="512.53" x2="418.5" y2="512.53" stroke="#444" stroke-width="0.9"/>
<line x1="416.5" y1="510.78" x2="418.5" y2="510.78" stroke="#444" stroke-width="0.9"/>
<line x1="416.5" y1="498.93" x2="418.5" y2="498.93" stroke="#444" stroke-width="0.9"/>
<line x1="416.5" y1="492.91" x2="418.5" y2="492.91" stroke="#444" stroke-width="0.9"/>
<line x1="416.5" y1="488.64" x2="418.5" y2="488.64" stroke="#444" stroke-width="0.9"/>
<line x1="416.5" y1="485.32" x2="418.5" y2="485.32" stroke="#444" stroke-width="0.9"/>
<line x1="416.5" y1="482.62" x2="418.5" y2="482.62" stroke="#444" stroke-width="0.9"/>
<line x1="416.5" y1="480.33" x2="418.5" y2="480.33" stroke="#444" stroke-width="0.9"/>
<line x1="416.5" y1="478.35" x2="418.5" y2="478.35" stroke="#444" stroke-width="0.9"/>
<line x1="416.5" y1="476.6" x2="418.5" y2="476.6" stroke="#444" stroke-width="0.9"/>
<line x1="416.5" y1="464.74" x2="418.5" y2="464.74" stroke="#444" stroke-width="0.9"/>
<line x1="416.5" y1="458.72" x2="418.5" y2="458.72" stroke="#444" stroke-width="0.9"/>
<line x1="416.5" y1="454.45" x2="418.5" y2="454.45" stroke="#444" stroke-width="0.9"/>
<line x1="416.5" y1="451.14" x2="418.5" y2="451.14" stroke="#444" stroke-width="0.9"/>
<line x1="416.5" y1="448.43" x2="418.5" y2="448.43" stroke="#444" stroke-width="0.9"/>
<line x1="416.5" y1="446.15" x2="418.5" y2="446.15" stroke="#444" stroke-width="0.9"/>
<line x1="416.5" y1="444.16" x2="418.5" y2="444.16" stroke="#444" stroke-width="0.9"/>
<line x1="416.5" y1="442.41" x2="418.5" y2="442.41" stroke="#444" stroke-width="0.9"/>
<line x1="416.5" y1="430.56" x2="418.5" y2="430.56" stroke="#444" stroke-width="0.9"/>
<line x1="416.5" y1="424.54" x2="418.5" y2="424.54" stroke="#444" stroke-width="0.9"/>
<line x1="416.5" y1="420.27" x2="418.5" y2="420.27" stroke="#444" stroke-width="0.9"/>
<line x1="416.5" y1="416.96" x2="418.5" y2="416.96" stroke="#444" stroke-width="0.9"/>
<line x1="416.5" y1="414.25" x2="418.5" y2="414.25" stroke="#444" stroke-width="0.9"/>
<line x1="416.5" y1="411.96" x2="418.5" y2="411.96" stroke="#444" stroke-width="0.9"/>
<line x1="416.5" y1="409.98" x2="418.5" y2="409.98" stroke="#444" stroke-width="0.9"/>
<line x1="416.5" y1="408.23" x2="418.5" y2="408.23" stroke="#444" stroke-width="0.9"/>
<line x1="416.5" y1="396.38" x2="418.5" y2="396.38" stroke="#444" stroke-width="0.9"/>
<line x1="416.5" y1="390.36" x2="418.5" y2="390.36" stroke="#444" stroke-width="0.9"/>
<line x1="416.5" y1="386.09" x2="418.5" y2="386.09" stroke="#444" stroke-width="0.9"/>
<line x1="416.5" y1="382.77" x2="418.5" y2="382.77" stroke="#444" stroke-width="0.9"/>
<line x1="416.5" y1="380.07" x2="418.5" y2="380.07" stroke="#444" stroke-width="0.9"/>
<line x1="416.5" y1="377.78" x2="418.5" y2="377.78" stroke="#444" stroke-width="0.9"/>
<line x1="416.5" y1="375.8" x2="418.5" y2="375.8" stroke="#444" stroke-width="0.9"/>
<line x1="416.5" y1="374.05" x2="418.5" y2="374.05" stroke="#444" stroke-width="0.9"/>
<line x1="416.5" y1="362.19" x2="418.5" y2="362.19" stroke="#444" stroke-width="0.9"/>
<line x1="416.5" y1="356.17" x2="418.5" y2="356.17" stroke="#444" stroke-width="0.9"/>
<line x1="416.5" y1="351.9" x2="418.5" y2="351.9" stroke="#444" stroke-width="0.9"/>
<line x1="416.5" y1="348.59" x2="418.5" y2="348.59" stroke="#444" stroke-width="0.9"/>
<line x1="416.5" y1="345.88" x2="418.5" y2="345.88" stroke="#444" stroke-width="0.9"/>
<line x1="416.5" y1="343.6" x2="418.5" y2="343.6" stroke="#444" stroke-width="0.9"/>
<line x1="416.5" y1="341.61" x2="418.5" y2="341.61" stroke="#444" stroke-width="0.9"/>
<line x1="416.5" y1="339.86" x2="418.5" y2="339.86" stroke="#444" stroke-width="0.9"/>
<text x="546.05" y="330" text-anchor="middle" stroke-width="0.22"><tspan font-size="10.8" fill="#222" stroke="#222">70 keV Ge, 25 nm beam: </tspan><tspan font-size="10.8" fill="#da2c3e" stroke="#da2c3e">Ge ions</tspan></text>
<text x="546.05" y="576" text-anchor="middle" stroke-width="0.22"><tspan font-size="10.5" fill="#222" stroke="#222">DEPTH (nm)</tspan></text>
<g transform="translate(380.5,492.1) rotate(-90)"><text x="0" y="0" text-anchor="start" stroke-width="0.22"><tspan font-size="10.85" fill="#222" stroke="#222">Concentration (ats/cm</tspan><tspan font-size="7" fill="#222" stroke="#222" dy="-4">3</tspan><tspan font-size="10.85" fill="#222" stroke="#222" dy="4">)</tspan></text></g>
<rect x="191.6" y="43.2" width="119.1" height="93.7" fill="#fff" stroke="#8a8a8a" stroke-width="1"/>
<line x1="192.8" y1="50.9" x2="217.1" y2="50.9" stroke="#606060" stroke-width="1.4"/>
<text x="220.2" y="54.7" text-anchor="start" stroke-width="0.22"><tspan font-size="10.7" fill="#222" stroke="#222">35 ions/spot</tspan></text>
<line x1="192.8" y1="64" x2="217.1" y2="64" stroke="#4a72c2" stroke-width="1.4"/>
<text x="220.2" y="67.8" text-anchor="start" stroke-width="0.22"><tspan font-size="10.7" fill="#222" stroke="#222">52 ions/spot</tspan></text>
<line x1="192.8" y1="77.1" x2="217.1" y2="77.1" stroke="#4aa87a" stroke-width="1.4"/>
<text x="220.2" y="80.9" text-anchor="start" stroke-width="0.22"><tspan font-size="10.7" fill="#222" stroke="#222">70 ions/spot</tspan></text>
<line x1="192.8" y1="90.2" x2="217.1" y2="90.2" stroke="#bb88e0" stroke-width="1.4"/>
<text x="220.2" y="94" text-anchor="start" stroke-width="0.22"><tspan font-size="10.7" fill="#222" stroke="#222">105 ions/spot</tspan></text>
<line x1="192.8" y1="103.3" x2="217.1" y2="103.3" stroke="#d8b040" stroke-width="1.4"/>
<text x="220.2" y="107.1" text-anchor="start" stroke-width="0.22"><tspan font-size="10.7" fill="#222" stroke="#222">140 ions/spot</tspan></text>
<line x1="192.8" y1="116.4" x2="217.1" y2="116.4" stroke="#38c4c2" stroke-width="1.4"/>
<text x="220.2" y="120.2" text-anchor="start" stroke-width="0.22"><tspan font-size="10.7" fill="#222" stroke="#222">700 ions/spot</tspan></text>
<line x1="192.8" y1="129.5" x2="217.1" y2="129.5" stroke="#dc5862" stroke-width="1.4"/>
<text x="220.2" y="133.3" text-anchor="start" stroke-width="0.22"><tspan font-size="10.7" fill="#222" stroke="#222">Graphit. Threshold</tspan></text>
<rect x="554.8" y="43.2" width="118.8" height="93.7" fill="#fff" stroke="#8a8a8a" stroke-width="1"/>
<line x1="556" y1="50.9" x2="580.3" y2="50.9" stroke="#606060" stroke-width="1.4"/>
<text x="583.4" y="54.7" text-anchor="start" stroke-width="0.22"><tspan font-size="10.7" fill="#222" stroke="#222">40 ions/spot</tspan></text>
<line x1="556" y1="64" x2="580.3" y2="64" stroke="#4a72c2" stroke-width="1.4"/>
<text x="583.4" y="67.8" text-anchor="start" stroke-width="0.22"><tspan font-size="10.7" fill="#222" stroke="#222">60 ions/spot</tspan></text>
<line x1="556" y1="77.1" x2="580.3" y2="77.1" stroke="#4aa87a" stroke-width="1.4"/>
<text x="583.4" y="80.9" text-anchor="start" stroke-width="0.22"><tspan font-size="10.7" fill="#222" stroke="#222">80 ions/spot</tspan></text>
<line x1="556" y1="90.2" x2="580.3" y2="90.2" stroke="#bb88e0" stroke-width="1.4"/>
<text x="583.4" y="94" text-anchor="start" stroke-width="0.22"><tspan font-size="10.7" fill="#222" stroke="#222">120 ions/spot</tspan></text>
<line x1="556" y1="103.3" x2="580.3" y2="103.3" stroke="#d8b040" stroke-width="1.4"/>
<text x="583.4" y="107.1" text-anchor="start" stroke-width="0.22"><tspan font-size="10.7" fill="#222" stroke="#222">160 ions/spot</tspan></text>
<line x1="556" y1="116.4" x2="580.3" y2="116.4" stroke="#38c4c2" stroke-width="1.4"/>
<text x="583.4" y="120.2" text-anchor="start" stroke-width="0.22"><tspan font-size="10.7" fill="#222" stroke="#222">800 ions/spot</tspan></text>
<line x1="556" y1="129.5" x2="580.3" y2="129.5" stroke="#dc5862" stroke-width="1.4"/>
<text x="583.4" y="133.3" text-anchor="start" stroke-width="0.22"><tspan font-size="10.7" fill="#222" stroke="#222">Graphit. Threshold</tspan></text>
<rect x="217.2" y="338.3" width="93.8" height="80.2" fill="#fff" stroke="#8a8a8a" stroke-width="1"/>
<line x1="218.4" y1="346" x2="242.7" y2="346" stroke="#606060" stroke-width="1.4"/>
<text x="245.8" y="349.8" text-anchor="start" stroke-width="0.22"><tspan font-size="10.7" fill="#222" stroke="#222">35 ions/spot</tspan></text>
<line x1="218.4" y1="359.1" x2="242.7" y2="359.1" stroke="#dc5862" stroke-width="1.4"/>
<text x="245.8" y="362.9" text-anchor="start" stroke-width="0.22"><tspan font-size="10.7" fill="#222" stroke="#222">52 ions/spot</tspan></text>
<line x1="218.4" y1="372.2" x2="242.7" y2="372.2" stroke="#4a72c2" stroke-width="1.4"/>
<text x="245.8" y="376" text-anchor="start" stroke-width="0.22"><tspan font-size="10.7" fill="#222" stroke="#222">70 ions/spot</tspan></text>
<line x1="218.4" y1="385.3" x2="242.7" y2="385.3" stroke="#4aa87a" stroke-width="1.4"/>
<text x="245.8" y="389.1" text-anchor="start" stroke-width="0.22"><tspan font-size="10.7" fill="#222" stroke="#222">105 ions/spot</tspan></text>
<line x1="218.4" y1="398.4" x2="242.7" y2="398.4" stroke="#bb88e0" stroke-width="1.4"/>
<text x="245.8" y="402.2" text-anchor="start" stroke-width="0.22"><tspan font-size="10.7" fill="#222" stroke="#222">140 ions/spot</tspan></text>
<line x1="218.4" y1="411.5" x2="242.7" y2="411.5" stroke="#c9a020" stroke-width="1.4"/>
<text x="245.8" y="415.3" text-anchor="start" stroke-width="0.22"><tspan font-size="10.7" fill="#222" stroke="#222">700 ions/spot</tspan></text>
<rect x="580.5" y="338.3" width="93.1" height="80.2" fill="#fff" stroke="#8a8a8a" stroke-width="1"/>
<line x1="581.7" y1="346" x2="606" y2="346" stroke="#606060" stroke-width="1.4"/>
<text x="609.1" y="349.8" text-anchor="start" stroke-width="0.22"><tspan font-size="10.7" fill="#222" stroke="#222">40 ions/spot</tspan></text>
<line x1="581.7" y1="359.1" x2="606" y2="359.1" stroke="#dc5862" stroke-width="1.4"/>
<text x="609.1" y="362.9" text-anchor="start" stroke-width="0.22"><tspan font-size="10.7" fill="#222" stroke="#222">60 ions/spot</tspan></text>
<line x1="581.7" y1="372.2" x2="606" y2="372.2" stroke="#4a72c2" stroke-width="1.4"/>
<text x="609.1" y="376" text-anchor="start" stroke-width="0.22"><tspan font-size="10.7" fill="#222" stroke="#222">80 ions/spot</tspan></text>
<line x1="581.7" y1="385.3" x2="606" y2="385.3" stroke="#4aa87a" stroke-width="1.4"/>
<text x="609.1" y="389.1" text-anchor="start" stroke-width="0.22"><tspan font-size="10.7" fill="#222" stroke="#222">120 ions/spot</tspan></text>
<line x1="581.7" y1="398.4" x2="606" y2="398.4" stroke="#bb88e0" stroke-width="1.4"/>
<text x="609.1" y="402.2" text-anchor="start" stroke-width="0.22"><tspan font-size="10.7" fill="#222" stroke="#222">160 ions/spot</tspan></text>
<line x1="581.7" y1="411.5" x2="606" y2="411.5" stroke="#c9a020" stroke-width="1.4"/>
<text x="609.1" y="415.3" text-anchor="start" stroke-width="0.22"><tspan font-size="10.7" fill="#222" stroke="#222">800 ions/spot</tspan></text>
<rect x="55.3" y="43.2" width="255.4" height="205.5" fill="none" stroke="#444" stroke-width="1.3"/>
<rect x="418.5" y="43.2" width="255.1" height="205.5" fill="none" stroke="#444" stroke-width="1.3"/>
<rect x="55.4" y="338.3" width="255.6" height="205.1" fill="none" stroke="#444" stroke-width="1.3"/>
<rect x="418.5" y="338.3" width="255.1" height="205.1" fill="none" stroke="#444" stroke-width="1.3"/>
</svg>
</body></html>
